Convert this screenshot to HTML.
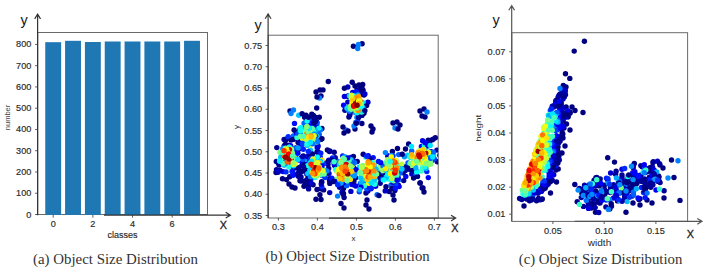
<!DOCTYPE html>
<html><head><meta charset="utf-8"><style>
html,body{margin:0;padding:0;background:#fff;width:706px;height:275px;overflow:hidden}
svg{display:block}
</style></head><body>
<svg width="706" height="275" viewBox="0 0 706 275">
<g font-family='"Liberation Sans", sans-serif' fill="#2a2a2a" stroke="#2a2a2a" stroke-width="0.15">
<rect x="37.70" y="32.50" width="169.80" height="182.00" fill="none" stroke="#6a6a6a" stroke-width="1"/>
<rect x="45.25" y="42.20" width="15.9" height="172.80" fill="#1f77b4" stroke="none"/>
<rect x="65.08" y="40.80" width="15.9" height="174.20" fill="#1f77b4" stroke="none"/>
<rect x="84.91" y="42.00" width="15.9" height="173.00" fill="#1f77b4" stroke="none"/>
<rect x="104.74" y="41.50" width="15.9" height="173.50" fill="#1f77b4" stroke="none"/>
<rect x="124.57" y="41.50" width="15.9" height="173.50" fill="#1f77b4" stroke="none"/>
<rect x="144.40" y="41.50" width="15.9" height="173.50" fill="#1f77b4" stroke="none"/>
<rect x="164.23" y="41.50" width="15.9" height="173.50" fill="#1f77b4" stroke="none"/>
<rect x="184.06" y="40.80" width="15.9" height="174.20" fill="#1f77b4" stroke="none"/>
<line x1="35.10" y1="214.50" x2="37.70" y2="214.50" stroke="#333" stroke-width="0.8"/>
<text x="31.40" y="217.50" text-anchor="end" font-size="8.4" textLength="5.09" lengthAdjust="spacingAndGlyphs">0</text>
<line x1="35.10" y1="193.24" x2="37.70" y2="193.24" stroke="#333" stroke-width="0.8"/>
<text x="31.40" y="196.24" text-anchor="end" font-size="8.4" textLength="15.26" lengthAdjust="spacingAndGlyphs">100</text>
<line x1="35.10" y1="171.98" x2="37.70" y2="171.98" stroke="#333" stroke-width="0.8"/>
<text x="31.40" y="174.98" text-anchor="end" font-size="8.4" textLength="15.26" lengthAdjust="spacingAndGlyphs">200</text>
<line x1="35.10" y1="150.72" x2="37.70" y2="150.72" stroke="#333" stroke-width="0.8"/>
<text x="31.40" y="153.72" text-anchor="end" font-size="8.4" textLength="15.26" lengthAdjust="spacingAndGlyphs">300</text>
<line x1="35.10" y1="129.46" x2="37.70" y2="129.46" stroke="#333" stroke-width="0.8"/>
<text x="31.40" y="132.46" text-anchor="end" font-size="8.4" textLength="15.26" lengthAdjust="spacingAndGlyphs">400</text>
<line x1="35.10" y1="108.20" x2="37.70" y2="108.20" stroke="#333" stroke-width="0.8"/>
<text x="31.40" y="111.20" text-anchor="end" font-size="8.4" textLength="15.26" lengthAdjust="spacingAndGlyphs">500</text>
<line x1="35.10" y1="86.94" x2="37.70" y2="86.94" stroke="#333" stroke-width="0.8"/>
<text x="31.40" y="89.94" text-anchor="end" font-size="8.4" textLength="15.26" lengthAdjust="spacingAndGlyphs">600</text>
<line x1="35.10" y1="65.68" x2="37.70" y2="65.68" stroke="#333" stroke-width="0.8"/>
<text x="31.40" y="68.68" text-anchor="end" font-size="8.4" textLength="15.26" lengthAdjust="spacingAndGlyphs">700</text>
<line x1="35.10" y1="44.42" x2="37.70" y2="44.42" stroke="#333" stroke-width="0.8"/>
<text x="31.40" y="47.42" text-anchor="end" font-size="8.4" textLength="15.26" lengthAdjust="spacingAndGlyphs">800</text>
<line x1="53.20" y1="215.00" x2="53.20" y2="217.60" stroke="#333" stroke-width="0.8"/>
<text x="53.20" y="226.80" text-anchor="middle" font-size="8.4" textLength="5.09" lengthAdjust="spacingAndGlyphs">0</text>
<line x1="92.86" y1="215.00" x2="92.86" y2="217.60" stroke="#333" stroke-width="0.8"/>
<text x="92.86" y="226.80" text-anchor="middle" font-size="8.4" textLength="5.09" lengthAdjust="spacingAndGlyphs">2</text>
<line x1="132.52" y1="215.00" x2="132.52" y2="217.60" stroke="#333" stroke-width="0.8"/>
<text x="132.52" y="226.80" text-anchor="middle" font-size="8.4" textLength="5.09" lengthAdjust="spacingAndGlyphs">4</text>
<line x1="172.18" y1="215.00" x2="172.18" y2="217.60" stroke="#333" stroke-width="0.8"/>
<text x="172.18" y="226.80" text-anchor="middle" font-size="8.4" textLength="5.09" lengthAdjust="spacingAndGlyphs">6</text>
<text x="122.5" y="238.2" text-anchor="middle" font-size="8.5" textLength="30" lengthAdjust="spacingAndGlyphs">classes</text>
<text transform="translate(9.6,117.5) rotate(-90)" text-anchor="middle" font-size="6.5" stroke="none" fill="#444" textLength="25.4" lengthAdjust="spacingAndGlyphs">number</text>
<path d="M37.60 215.20 L37.60 14.20 M34.70 18.90 L37.60 14.20 L40.50 18.90" fill="none" stroke="#333" stroke-width="1.2" stroke-linejoin="miter"/>
<path d="M104.00 215.20 L230.40 215.20 M225.70 212.30 L230.40 215.20 L225.70 218.10" fill="none" stroke="#333" stroke-width="1.2" stroke-linejoin="miter"/>
<text x="20.40" y="24.70" font-size="14.4" fill="#222" stroke="none">y</text>
<text x="219.80" y="229.00" font-size="10.8" fill="#222" stroke="#222" stroke-width="0.3">X</text>
<rect x="268.20" y="35.20" width="170.00" height="182.80" fill="none" stroke="#6a6a6a" stroke-width="1"/>
<line x1="265.60" y1="215.50" x2="268.20" y2="215.50" stroke="#333" stroke-width="0.8"/>
<text x="262.20" y="218.50" text-anchor="end" font-size="8.4" textLength="17.81" lengthAdjust="spacingAndGlyphs">0.35</text>
<line x1="265.60" y1="194.25" x2="268.20" y2="194.25" stroke="#333" stroke-width="0.8"/>
<text x="262.20" y="197.25" text-anchor="end" font-size="8.4" textLength="17.81" lengthAdjust="spacingAndGlyphs">0.40</text>
<line x1="265.60" y1="173.00" x2="268.20" y2="173.00" stroke="#333" stroke-width="0.8"/>
<text x="262.20" y="176.00" text-anchor="end" font-size="8.4" textLength="17.81" lengthAdjust="spacingAndGlyphs">0.45</text>
<line x1="265.60" y1="151.75" x2="268.20" y2="151.75" stroke="#333" stroke-width="0.8"/>
<text x="262.20" y="154.75" text-anchor="end" font-size="8.4" textLength="17.81" lengthAdjust="spacingAndGlyphs">0.50</text>
<line x1="265.60" y1="130.50" x2="268.20" y2="130.50" stroke="#333" stroke-width="0.8"/>
<text x="262.20" y="133.50" text-anchor="end" font-size="8.4" textLength="17.81" lengthAdjust="spacingAndGlyphs">0.55</text>
<line x1="265.60" y1="109.25" x2="268.20" y2="109.25" stroke="#333" stroke-width="0.8"/>
<text x="262.20" y="112.25" text-anchor="end" font-size="8.4" textLength="17.81" lengthAdjust="spacingAndGlyphs">0.60</text>
<line x1="265.60" y1="88.00" x2="268.20" y2="88.00" stroke="#333" stroke-width="0.8"/>
<text x="262.20" y="91.00" text-anchor="end" font-size="8.4" textLength="17.81" lengthAdjust="spacingAndGlyphs">0.65</text>
<line x1="265.60" y1="66.75" x2="268.20" y2="66.75" stroke="#333" stroke-width="0.8"/>
<text x="262.20" y="69.75" text-anchor="end" font-size="8.4" textLength="17.81" lengthAdjust="spacingAndGlyphs">0.70</text>
<line x1="265.60" y1="45.50" x2="268.20" y2="45.50" stroke="#333" stroke-width="0.8"/>
<text x="262.20" y="48.50" text-anchor="end" font-size="8.4" textLength="17.81" lengthAdjust="spacingAndGlyphs">0.75</text>
<line x1="278.40" y1="218.00" x2="278.40" y2="220.60" stroke="#333" stroke-width="0.8"/>
<text x="278.40" y="230.30" text-anchor="middle" font-size="8.4" textLength="12.72" lengthAdjust="spacingAndGlyphs">0.3</text>
<line x1="317.40" y1="218.00" x2="317.40" y2="220.60" stroke="#333" stroke-width="0.8"/>
<text x="317.40" y="230.30" text-anchor="middle" font-size="8.4" textLength="12.72" lengthAdjust="spacingAndGlyphs">0.4</text>
<line x1="356.40" y1="218.00" x2="356.40" y2="220.60" stroke="#333" stroke-width="0.8"/>
<text x="356.40" y="230.30" text-anchor="middle" font-size="8.4" textLength="12.72" lengthAdjust="spacingAndGlyphs">0.5</text>
<line x1="395.40" y1="218.00" x2="395.40" y2="220.60" stroke="#333" stroke-width="0.8"/>
<text x="395.40" y="230.30" text-anchor="middle" font-size="8.4" textLength="12.72" lengthAdjust="spacingAndGlyphs">0.6</text>
<line x1="434.40" y1="218.00" x2="434.40" y2="220.60" stroke="#333" stroke-width="0.8"/>
<text x="434.40" y="230.30" text-anchor="middle" font-size="8.4" textLength="12.72" lengthAdjust="spacingAndGlyphs">0.7</text>
<text x="353.5" y="241" text-anchor="middle" font-size="8" stroke="none">x</text>
<text transform="translate(238.7,127) rotate(-90)" text-anchor="middle" font-size="8" stroke="none">y</text>
<rect x="511.80" y="32.70" width="175.80" height="188.70" fill="none" stroke="#6a6a6a" stroke-width="1"/>
<line x1="509.20" y1="214.20" x2="511.80" y2="214.20" stroke="#333" stroke-width="0.8"/>
<text x="505.40" y="217.20" text-anchor="end" font-size="8.4" textLength="17.81" lengthAdjust="spacingAndGlyphs">0.01</text>
<line x1="509.20" y1="187.13" x2="511.80" y2="187.13" stroke="#333" stroke-width="0.8"/>
<text x="505.40" y="190.13" text-anchor="end" font-size="8.4" textLength="17.81" lengthAdjust="spacingAndGlyphs">0.02</text>
<line x1="509.20" y1="160.06" x2="511.80" y2="160.06" stroke="#333" stroke-width="0.8"/>
<text x="505.40" y="163.06" text-anchor="end" font-size="8.4" textLength="17.81" lengthAdjust="spacingAndGlyphs">0.03</text>
<line x1="509.20" y1="132.99" x2="511.80" y2="132.99" stroke="#333" stroke-width="0.8"/>
<text x="505.40" y="135.99" text-anchor="end" font-size="8.4" textLength="17.81" lengthAdjust="spacingAndGlyphs">0.04</text>
<line x1="509.20" y1="105.92" x2="511.80" y2="105.92" stroke="#333" stroke-width="0.8"/>
<text x="505.40" y="108.92" text-anchor="end" font-size="8.4" textLength="17.81" lengthAdjust="spacingAndGlyphs">0.05</text>
<line x1="509.20" y1="78.85" x2="511.80" y2="78.85" stroke="#333" stroke-width="0.8"/>
<text x="505.40" y="81.85" text-anchor="end" font-size="8.4" textLength="17.81" lengthAdjust="spacingAndGlyphs">0.06</text>
<line x1="509.20" y1="51.78" x2="511.80" y2="51.78" stroke="#333" stroke-width="0.8"/>
<text x="505.40" y="54.78" text-anchor="end" font-size="8.4" textLength="17.81" lengthAdjust="spacingAndGlyphs">0.07</text>
<line x1="552.90" y1="221.40" x2="552.90" y2="224.00" stroke="#333" stroke-width="0.8"/>
<text x="552.90" y="234.10" text-anchor="middle" font-size="8.4" textLength="17.81" lengthAdjust="spacingAndGlyphs">0.05</text>
<line x1="604.20" y1="221.40" x2="604.20" y2="224.00" stroke="#333" stroke-width="0.8"/>
<text x="604.20" y="234.10" text-anchor="middle" font-size="8.4" textLength="17.81" lengthAdjust="spacingAndGlyphs">0.10</text>
<line x1="655.90" y1="221.40" x2="655.90" y2="224.00" stroke="#333" stroke-width="0.8"/>
<text x="655.90" y="234.10" text-anchor="middle" font-size="8.4" textLength="17.81" lengthAdjust="spacingAndGlyphs">0.15</text>
<text x="599.5" y="245.9" text-anchor="middle" font-size="8.6" stroke="none" textLength="23.5" lengthAdjust="spacingAndGlyphs">width</text>
<text transform="translate(481.4,128.3) rotate(-90)" text-anchor="middle" font-size="8" stroke="none" textLength="27" lengthAdjust="spacingAndGlyphs">height</text>
</g>
<defs><clipPath id="cb"><rect x="268.2" y="35.2" width="170" height="182.8"/></clipPath><clipPath id="cc"><rect x="511.8" y="32.7" width="175.8" height="188.7"/></clipPath></defs>
<g clip-path="url(#cb)">
<circle cx="349.9" cy="113.4" r="2.7" fill="#000080"/>
<circle cx="317.8" cy="136.6" r="2.7" fill="#0000f1"/>
<circle cx="309.7" cy="167.2" r="2.7" fill="#0030ff"/>
<circle cx="344.0" cy="208.0" r="2.7" fill="#000080"/>
<circle cx="292.0" cy="187.0" r="2.7" fill="#000080"/>
<circle cx="343.8" cy="164.4" r="2.7" fill="#ceff31"/>
<circle cx="439.9" cy="155.3" r="2.7" fill="#0000ac"/>
<circle cx="282.5" cy="178.8" r="2.7" fill="#000080"/>
<circle cx="360.6" cy="113.7" r="2.7" fill="#0000dd"/>
<circle cx="351.6" cy="171.0" r="2.7" fill="#00a3ff"/>
<circle cx="337.6" cy="161.2" r="2.7" fill="#008aff"/>
<circle cx="355.0" cy="129.0" r="2.7" fill="#000080"/>
<circle cx="318.6" cy="155.8" r="2.7" fill="#0086ff"/>
<circle cx="318.5" cy="160.6" r="2.7" fill="#00f6ff"/>
<circle cx="393.4" cy="184.0" r="2.7" fill="#0000f8"/>
<circle cx="362.0" cy="115.4" r="2.7" fill="#000080"/>
<circle cx="366.4" cy="184.7" r="2.7" fill="#0022ff"/>
<circle cx="305.4" cy="127.3" r="2.7" fill="#0046ff"/>
<circle cx="311.8" cy="114.1" r="2.7" fill="#000080"/>
<circle cx="423.6" cy="163.0" r="2.7" fill="#2cffd3"/>
<circle cx="393.8" cy="182.9" r="2.7" fill="#009fff"/>
<circle cx="411.8" cy="173.9" r="2.7" fill="#0000c2"/>
<circle cx="349.5" cy="111.8" r="2.7" fill="#0017ff"/>
<circle cx="310.4" cy="150.3" r="2.7" fill="#00c7ff"/>
<circle cx="316.9" cy="122.2" r="2.7" fill="#0000a1"/>
<circle cx="276.3" cy="161.4" r="2.7" fill="#000094"/>
<circle cx="397.1" cy="177.4" r="2.7" fill="#0096ff"/>
<circle cx="344.9" cy="110.2" r="2.7" fill="#00009e"/>
<circle cx="364.0" cy="113.2" r="2.7" fill="#000080"/>
<circle cx="431.1" cy="151.7" r="2.7" fill="#0000ac"/>
<circle cx="381.1" cy="172.0" r="2.7" fill="#000094"/>
<circle cx="348.9" cy="117.0" r="2.7" fill="#000080"/>
<circle cx="353.4" cy="46.3" r="2.7" fill="#000080"/>
<circle cx="347.8" cy="87.0" r="2.7" fill="#0000cb"/>
<circle cx="285.8" cy="145.4" r="2.7" fill="#006eff"/>
<circle cx="388.3" cy="178.2" r="2.7" fill="#005aff"/>
<circle cx="344.8" cy="185.8" r="2.7" fill="#007bff"/>
<circle cx="357.0" cy="90.0" r="2.7" fill="#000080"/>
<circle cx="277.6" cy="161.7" r="2.7" fill="#000080"/>
<circle cx="346.0" cy="130.0" r="2.7" fill="#0080ff"/>
<circle cx="306.2" cy="121.5" r="2.7" fill="#000097"/>
<circle cx="357.2" cy="93.3" r="2.7" fill="#000aff"/>
<circle cx="349.6" cy="176.9" r="2.7" fill="#0000dc"/>
<circle cx="418.8" cy="158.4" r="2.7" fill="#abff54"/>
<circle cx="405.8" cy="176.4" r="2.7" fill="#0002ff"/>
<circle cx="307.6" cy="166.1" r="2.7" fill="#000080"/>
<circle cx="299.1" cy="130.6" r="2.7" fill="#000aff"/>
<circle cx="366.0" cy="193.0" r="2.7" fill="#000080"/>
<circle cx="318.1" cy="164.4" r="2.7" fill="#fff200"/>
<circle cx="322.3" cy="175.5" r="2.7" fill="#0000db"/>
<circle cx="284.1" cy="139.4" r="2.7" fill="#0000aa"/>
<circle cx="308.4" cy="186.3" r="2.7" fill="#000080"/>
<circle cx="297.7" cy="168.3" r="2.7" fill="#000094"/>
<circle cx="352.2" cy="82.3" r="2.7" fill="#000080"/>
<circle cx="370.6" cy="170.5" r="2.7" fill="#ffce00"/>
<circle cx="283.0" cy="171.6" r="2.7" fill="#0000f2"/>
<circle cx="408.7" cy="164.5" r="2.7" fill="#000bff"/>
<circle cx="398.7" cy="179.8" r="2.7" fill="#0078ff"/>
<circle cx="317.4" cy="128.4" r="2.7" fill="#000093"/>
<circle cx="362.1" cy="167.7" r="2.7" fill="#003aff"/>
<circle cx="353.1" cy="174.1" r="2.7" fill="#000094"/>
<circle cx="306.8" cy="180.4" r="2.7" fill="#000080"/>
<circle cx="289.7" cy="176.8" r="2.7" fill="#000080"/>
<circle cx="424.0" cy="109.0" r="2.7" fill="#000080"/>
<circle cx="311.4" cy="178.4" r="2.7" fill="#0021ff"/>
<circle cx="341.4" cy="186.2" r="2.7" fill="#0096ff"/>
<circle cx="318.0" cy="161.0" r="2.7" fill="#00b6ff"/>
<circle cx="317.3" cy="148.6" r="2.7" fill="#0084ff"/>
<circle cx="311.4" cy="134.9" r="2.7" fill="#91ff6e"/>
<circle cx="300.0" cy="180.7" r="2.7" fill="#000094"/>
<circle cx="347.6" cy="107.5" r="2.7" fill="#00dbff"/>
<circle cx="316.0" cy="117.5" r="2.7" fill="#000080"/>
<circle cx="389.2" cy="191.5" r="2.7" fill="#000080"/>
<circle cx="356.9" cy="117.5" r="2.7" fill="#0088ff"/>
<circle cx="367.8" cy="191.1" r="2.7" fill="#0000bb"/>
<circle cx="422.6" cy="140.8" r="2.7" fill="#0000dd"/>
<circle cx="286.0" cy="171.9" r="2.7" fill="#002dff"/>
<circle cx="289.0" cy="147.8" r="2.7" fill="#70ff8f"/>
<circle cx="317.8" cy="145.4" r="2.7" fill="#001cff"/>
<circle cx="291.0" cy="166.9" r="2.7" fill="#000082"/>
<circle cx="304.5" cy="166.9" r="2.7" fill="#0000a0"/>
<circle cx="305.7" cy="123.4" r="2.7" fill="#006bff"/>
<circle cx="313.5" cy="141.2" r="2.7" fill="#006eff"/>
<circle cx="345.8" cy="158.8" r="2.7" fill="#000080"/>
<circle cx="369.0" cy="209.0" r="2.7" fill="#000080"/>
<circle cx="301.8" cy="165.8" r="2.7" fill="#000094"/>
<circle cx="397.0" cy="122.0" r="2.7" fill="#000080"/>
<circle cx="342.7" cy="155.9" r="2.7" fill="#0015ff"/>
<circle cx="316.7" cy="108.0" r="2.7" fill="#000080"/>
<circle cx="367.0" cy="200.0" r="2.7" fill="#000080"/>
<circle cx="361.9" cy="123.5" r="2.7" fill="#000085"/>
<circle cx="296.1" cy="132.8" r="2.7" fill="#000080"/>
<circle cx="366.0" cy="205.0" r="2.7" fill="#000080"/>
<circle cx="320.7" cy="188.7" r="2.7" fill="#000080"/>
<circle cx="286.3" cy="150.8" r="2.7" fill="#05fffa"/>
<circle cx="317.7" cy="147.0" r="2.7" fill="#000080"/>
<circle cx="367.9" cy="102.3" r="2.7" fill="#0000d4"/>
<circle cx="393.0" cy="195.0" r="2.7" fill="#000080"/>
<circle cx="344.2" cy="184.6" r="2.7" fill="#000086"/>
<circle cx="302.4" cy="162.5" r="2.7" fill="#0000f9"/>
<circle cx="284.1" cy="146.3" r="2.7" fill="#0000c4"/>
<circle cx="387.7" cy="155.8" r="2.7" fill="#0000e1"/>
<circle cx="293.0" cy="175.2" r="2.7" fill="#000aff"/>
<circle cx="307.5" cy="159.8" r="2.7" fill="#00aeff"/>
<circle cx="390.5" cy="177.0" r="2.7" fill="#70ff8f"/>
<circle cx="388.8" cy="162.4" r="2.7" fill="#8bff74"/>
<circle cx="319.6" cy="157.1" r="2.7" fill="#0010ff"/>
<circle cx="437.3" cy="161.8" r="2.7" fill="#000080"/>
<circle cx="284.1" cy="165.0" r="2.7" fill="#0067ff"/>
<circle cx="313.1" cy="184.7" r="2.7" fill="#000080"/>
<circle cx="361.0" cy="173.7" r="2.7" fill="#00bcff"/>
<circle cx="313.9" cy="130.1" r="2.7" fill="#5effa1"/>
<circle cx="329.0" cy="173.5" r="2.7" fill="#0000d7"/>
<circle cx="375.6" cy="186.3" r="2.7" fill="#0000f7"/>
<circle cx="281.0" cy="152.1" r="2.7" fill="#000094"/>
<circle cx="362.1" cy="43.7" r="2.7" fill="#000080"/>
<circle cx="323.6" cy="189.9" r="2.7" fill="#00008c"/>
<circle cx="343.6" cy="105.2" r="2.7" fill="#0001ff"/>
<circle cx="396.0" cy="163.9" r="2.7" fill="#001aff"/>
<circle cx="353.4" cy="167.4" r="2.7" fill="#0000a1"/>
<circle cx="367.0" cy="188.1" r="2.7" fill="#0000e4"/>
<circle cx="320.2" cy="157.0" r="2.7" fill="#0059ff"/>
<circle cx="354.0" cy="126.0" r="2.7" fill="#0080ff"/>
<circle cx="293.3" cy="136.0" r="2.7" fill="#0067ff"/>
<circle cx="321.9" cy="128.4" r="2.7" fill="#000080"/>
<circle cx="363.4" cy="180.9" r="2.7" fill="#003aff"/>
<circle cx="283.4" cy="149.6" r="2.7" fill="#000080"/>
<circle cx="342.0" cy="192.2" r="2.7" fill="#0000cf"/>
<circle cx="391.0" cy="185.3" r="2.7" fill="#005dff"/>
<circle cx="347.4" cy="181.7" r="2.7" fill="#0000df"/>
<circle cx="393.8" cy="174.3" r="2.7" fill="#44ffbb"/>
<circle cx="362.8" cy="170.5" r="2.7" fill="#7bff84"/>
<circle cx="379.3" cy="173.3" r="2.7" fill="#0080ff"/>
<circle cx="344.0" cy="180.2" r="2.7" fill="#0091ff"/>
<circle cx="317.0" cy="152.0" r="2.7" fill="#000080"/>
<circle cx="295.0" cy="188.0" r="2.7" fill="#000080"/>
<circle cx="341.8" cy="164.9" r="2.7" fill="#b0ff4f"/>
<circle cx="368.7" cy="173.9" r="2.7" fill="#fffa00"/>
<circle cx="318.1" cy="151.9" r="2.7" fill="#0000a0"/>
<circle cx="328.7" cy="168.4" r="2.7" fill="#000094"/>
<circle cx="328.0" cy="164.4" r="2.7" fill="#000094"/>
<circle cx="364.0" cy="95.0" r="2.7" fill="#000080"/>
<circle cx="371.0" cy="188.8" r="2.7" fill="#0000bd"/>
<circle cx="312.0" cy="117.0" r="2.7" fill="#000080"/>
<circle cx="396.5" cy="166.2" r="2.7" fill="#63ff9c"/>
<circle cx="371.0" cy="126.0" r="2.7" fill="#000080"/>
<circle cx="391.0" cy="166.5" r="2.7" fill="#2fffd0"/>
<circle cx="320.0" cy="90.0" r="2.7" fill="#000080"/>
<circle cx="326.5" cy="173.0" r="2.7" fill="#000080"/>
<circle cx="382.3" cy="179.1" r="2.7" fill="#00adff"/>
<circle cx="354.3" cy="176.5" r="2.7" fill="#0036ff"/>
<circle cx="334.6" cy="165.5" r="2.7" fill="#000094"/>
<circle cx="356.4" cy="172.0" r="2.7" fill="#00a1ff"/>
<circle cx="409.2" cy="169.2" r="2.7" fill="#000094"/>
<circle cx="294.4" cy="168.1" r="2.7" fill="#000094"/>
<circle cx="411.0" cy="154.6" r="2.7" fill="#0091ff"/>
<circle cx="283.5" cy="164.4" r="2.7" fill="#00e5ff"/>
<circle cx="290.6" cy="145.8" r="2.7" fill="#000bff"/>
<circle cx="292.2" cy="167.5" r="2.7" fill="#000080"/>
<circle cx="350.2" cy="98.0" r="2.7" fill="#0055ff"/>
<circle cx="319.3" cy="134.7" r="2.7" fill="#005dff"/>
<circle cx="307.8" cy="178.1" r="2.7" fill="#000080"/>
<circle cx="352.0" cy="172.8" r="2.7" fill="#ffa000"/>
<circle cx="324.9" cy="171.6" r="2.7" fill="#004aff"/>
<circle cx="390.5" cy="171.7" r="2.7" fill="#6cff93"/>
<circle cx="343.5" cy="193.5" r="2.7" fill="#000080"/>
<circle cx="296.3" cy="149.5" r="2.7" fill="#000080"/>
<circle cx="311.9" cy="121.9" r="2.7" fill="#0067ff"/>
<circle cx="298.6" cy="134.8" r="2.7" fill="#00a8ff"/>
<circle cx="353.2" cy="184.7" r="2.7" fill="#000080"/>
<circle cx="310.1" cy="120.1" r="2.7" fill="#000080"/>
<circle cx="360.8" cy="87.1" r="2.7" fill="#000080"/>
<circle cx="361.0" cy="92.0" r="2.7" fill="#000080"/>
<circle cx="304.1" cy="123.2" r="2.7" fill="#0063ff"/>
<circle cx="298.7" cy="115.3" r="2.7" fill="#00caff"/>
<circle cx="359.3" cy="191.8" r="2.7" fill="#0041ff"/>
<circle cx="357.8" cy="121.6" r="2.7" fill="#0038ff"/>
<circle cx="353.5" cy="161.1" r="2.7" fill="#0005ff"/>
<circle cx="293.4" cy="166.0" r="2.7" fill="#000092"/>
<circle cx="290.4" cy="153.4" r="2.7" fill="#00aeff"/>
<circle cx="300.4" cy="143.6" r="2.7" fill="#00e2ff"/>
<circle cx="313.4" cy="115.5" r="2.7" fill="#000080"/>
<circle cx="429.5" cy="143.2" r="2.7" fill="#0009ff"/>
<circle cx="307.9" cy="117.6" r="2.7" fill="#00009f"/>
<circle cx="422.1" cy="188.0" r="2.7" fill="#000092"/>
<circle cx="405.5" cy="149.0" r="2.7" fill="#000080"/>
<circle cx="400.0" cy="125.0" r="2.7" fill="#000080"/>
<circle cx="300.8" cy="177.9" r="2.7" fill="#000094"/>
<circle cx="334.1" cy="163.7" r="2.7" fill="#0000ef"/>
<circle cx="362.7" cy="84.5" r="2.7" fill="#000080"/>
<circle cx="403.1" cy="170.3" r="2.7" fill="#0000a7"/>
<circle cx="387.2" cy="178.8" r="2.7" fill="#00fcff"/>
<circle cx="393.0" cy="123.0" r="2.7" fill="#000080"/>
<circle cx="392.0" cy="188.4" r="2.7" fill="#000080"/>
<circle cx="304.0" cy="186.3" r="2.7" fill="#000080"/>
<circle cx="380.2" cy="183.2" r="2.7" fill="#000094"/>
<circle cx="415.3" cy="176.5" r="2.7" fill="#0072ff"/>
<circle cx="277.9" cy="162.6" r="2.7" fill="#000094"/>
<circle cx="307.0" cy="134.8" r="2.7" fill="#ffe500"/>
<circle cx="322.0" cy="138.8" r="2.7" fill="#000080"/>
<circle cx="301.1" cy="158.3" r="2.7" fill="#0000c5"/>
<circle cx="359.9" cy="89.8" r="2.7" fill="#00009c"/>
<circle cx="309.8" cy="160.5" r="2.7" fill="#0000d7"/>
<circle cx="392.4" cy="164.3" r="2.7" fill="#00bdff"/>
<circle cx="374.0" cy="180.9" r="2.7" fill="#000080"/>
<circle cx="416.6" cy="171.4" r="2.7" fill="#0047ff"/>
<circle cx="388.3" cy="168.2" r="2.7" fill="#00e3ff"/>
<circle cx="313.5" cy="134.8" r="2.7" fill="#00c9ff"/>
<circle cx="413.6" cy="178.0" r="2.7" fill="#000080"/>
<circle cx="311.9" cy="126.2" r="2.7" fill="#00afff"/>
<circle cx="371.2" cy="174.6" r="2.7" fill="#ff8200"/>
<circle cx="306.8" cy="156.6" r="2.7" fill="#0000d1"/>
<circle cx="306.2" cy="139.5" r="2.7" fill="#00a0ff"/>
<circle cx="328.3" cy="81.5" r="2.7" fill="#000080"/>
<circle cx="391.8" cy="159.0" r="2.7" fill="#00f1ff"/>
<circle cx="386.7" cy="161.7" r="2.7" fill="#58ffa7"/>
<circle cx="319.3" cy="117.2" r="2.7" fill="#000080"/>
<circle cx="311.5" cy="156.2" r="2.7" fill="#0000bb"/>
<circle cx="303.3" cy="163.4" r="2.7" fill="#0000ca"/>
<circle cx="395.0" cy="128.0" r="2.7" fill="#0080ff"/>
<circle cx="299.1" cy="136.1" r="2.7" fill="#00c7ff"/>
<circle cx="425.0" cy="117.0" r="2.7" fill="#000080"/>
<circle cx="321.7" cy="182.2" r="2.7" fill="#0000ea"/>
<circle cx="373.2" cy="157.6" r="2.7" fill="#000bff"/>
<circle cx="289.2" cy="148.7" r="2.7" fill="#70ff8f"/>
<circle cx="289.1" cy="145.3" r="2.7" fill="#0000e5"/>
<circle cx="366.6" cy="182.6" r="2.7" fill="#0081ff"/>
<circle cx="286.2" cy="139.4" r="2.7" fill="#000080"/>
<circle cx="317.2" cy="146.7" r="2.7" fill="#0000e5"/>
<circle cx="342.8" cy="162.7" r="2.7" fill="#abff54"/>
<circle cx="302.1" cy="113.8" r="2.7" fill="#000080"/>
<circle cx="369.1" cy="172.4" r="2.7" fill="#ffd600"/>
<circle cx="380.8" cy="176.3" r="2.7" fill="#000094"/>
<circle cx="286.8" cy="146.1" r="2.7" fill="#0021ff"/>
<circle cx="316.8" cy="131.1" r="2.7" fill="#0074ff"/>
<circle cx="316.5" cy="125.8" r="2.7" fill="#0000fc"/>
<circle cx="280.8" cy="161.5" r="2.7" fill="#000094"/>
<circle cx="336.2" cy="179.1" r="2.7" fill="#80ff7f"/>
<circle cx="295.4" cy="149.0" r="2.7" fill="#00f1ff"/>
<circle cx="292.5" cy="154.1" r="2.7" fill="#2effd1"/>
<circle cx="347.7" cy="166.1" r="2.7" fill="#ffd200"/>
<circle cx="306.3" cy="164.5" r="2.7" fill="#0004ff"/>
<circle cx="315.2" cy="177.5" r="2.7" fill="#10ffef"/>
<circle cx="335.2" cy="157.7" r="2.7" fill="#000094"/>
<circle cx="385.2" cy="168.6" r="2.7" fill="#0088ff"/>
<circle cx="394.0" cy="200.0" r="2.7" fill="#000080"/>
<circle cx="423.0" cy="159.3" r="2.7" fill="#fbff04"/>
<circle cx="295.7" cy="155.6" r="2.7" fill="#0073ff"/>
<circle cx="411.0" cy="157.4" r="2.7" fill="#00bcff"/>
<circle cx="352.7" cy="92.4" r="2.7" fill="#0000e1"/>
<circle cx="408.6" cy="144.0" r="2.7" fill="#000080"/>
<circle cx="317.7" cy="164.2" r="2.7" fill="#b4ff4b"/>
<circle cx="289.0" cy="184.0" r="2.7" fill="#000080"/>
<circle cx="306.8" cy="174.1" r="2.7" fill="#00009e"/>
<circle cx="396.5" cy="174.1" r="2.7" fill="#13ffec"/>
<circle cx="279.9" cy="159.9" r="2.7" fill="#8cff73"/>
<circle cx="358.9" cy="96.9" r="2.7" fill="#00eeff"/>
<circle cx="392.9" cy="175.7" r="2.7" fill="#000080"/>
<circle cx="402.0" cy="165.3" r="2.7" fill="#007cff"/>
<circle cx="342.6" cy="167.9" r="2.7" fill="#ff4f00"/>
<circle cx="355.2" cy="112.5" r="2.7" fill="#008dff"/>
<circle cx="319.7" cy="156.7" r="2.7" fill="#008eff"/>
<circle cx="396.5" cy="165.7" r="2.7" fill="#27ffd8"/>
<circle cx="393.0" cy="155.7" r="2.7" fill="#003aff"/>
<circle cx="279.9" cy="170.1" r="2.7" fill="#000094"/>
<circle cx="436.9" cy="150.1" r="2.7" fill="#0000a0"/>
<circle cx="373.3" cy="173.7" r="2.7" fill="#48ffb7"/>
<circle cx="348.4" cy="182.6" r="2.7" fill="#007bff"/>
<circle cx="402.8" cy="168.4" r="2.7" fill="#000094"/>
<circle cx="312.1" cy="143.5" r="2.7" fill="#0dfff2"/>
<circle cx="284.9" cy="162.7" r="2.7" fill="#42ffbd"/>
<circle cx="295.6" cy="147.9" r="2.7" fill="#000080"/>
<circle cx="398.7" cy="154.6" r="2.7" fill="#005dff"/>
<circle cx="348.5" cy="168.6" r="2.7" fill="#fff600"/>
<circle cx="423.0" cy="188.0" r="2.7" fill="#000080"/>
<circle cx="366.8" cy="188.8" r="2.7" fill="#0043ff"/>
<circle cx="394.1" cy="179.6" r="2.7" fill="#c5ff3a"/>
<circle cx="304.1" cy="164.5" r="2.7" fill="#00008f"/>
<circle cx="286.2" cy="139.1" r="2.7" fill="#000080"/>
<circle cx="359.0" cy="115.6" r="2.7" fill="#0000a4"/>
<circle cx="369.4" cy="187.1" r="2.7" fill="#0007ff"/>
<circle cx="398.4" cy="185.2" r="2.7" fill="#000080"/>
<circle cx="363.1" cy="90.2" r="2.7" fill="#000080"/>
<circle cx="371.2" cy="187.9" r="2.7" fill="#0024ff"/>
<circle cx="307.8" cy="165.5" r="2.7" fill="#10ffef"/>
<circle cx="286.3" cy="145.0" r="2.7" fill="#000080"/>
<circle cx="376.9" cy="173.1" r="2.7" fill="#ffe300"/>
<circle cx="315.1" cy="137.6" r="2.7" fill="#00ecff"/>
<circle cx="318.0" cy="173.8" r="2.7" fill="#f0ff0f"/>
<circle cx="328.7" cy="160.3" r="2.7" fill="#0000f6"/>
<circle cx="338.4" cy="181.0" r="2.7" fill="#73ff8c"/>
<circle cx="313.4" cy="127.8" r="2.7" fill="#0000f8"/>
<circle cx="367.9" cy="179.3" r="2.7" fill="#0bfff4"/>
<circle cx="285.7" cy="161.1" r="2.7" fill="#0080ff"/>
<circle cx="281.7" cy="163.6" r="2.7" fill="#11ffee"/>
<circle cx="406.4" cy="166.5" r="2.7" fill="#000094"/>
<circle cx="381.9" cy="168.7" r="2.7" fill="#000080"/>
<circle cx="325.1" cy="170.6" r="2.7" fill="#00c2ff"/>
<circle cx="343.5" cy="188.4" r="2.7" fill="#000080"/>
<circle cx="313.5" cy="169.3" r="2.7" fill="#ffdc00"/>
<circle cx="282.5" cy="155.3" r="2.7" fill="#a6ff59"/>
<circle cx="321.0" cy="96.0" r="2.7" fill="#000080"/>
<circle cx="424.0" cy="192.0" r="2.7" fill="#000080"/>
<circle cx="360.4" cy="183.5" r="2.7" fill="#0039ff"/>
<circle cx="378.2" cy="169.1" r="2.7" fill="#00cfff"/>
<circle cx="283.1" cy="150.1" r="2.7" fill="#08fff7"/>
<circle cx="285.1" cy="153.9" r="2.7" fill="#ff7a00"/>
<circle cx="316.0" cy="199.3" r="2.7" fill="#000080"/>
<circle cx="298.1" cy="142.5" r="2.7" fill="#000080"/>
<circle cx="421.4" cy="146.4" r="2.7" fill="#0000ff"/>
<circle cx="369.8" cy="158.8" r="2.7" fill="#000080"/>
<circle cx="355.0" cy="86.0" r="2.7" fill="#000080"/>
<circle cx="428.3" cy="177.6" r="2.7" fill="#0000fc"/>
<circle cx="312.7" cy="120.1" r="2.7" fill="#0000c4"/>
<circle cx="357.2" cy="161.5" r="2.7" fill="#000080"/>
<circle cx="350.0" cy="112.0" r="2.7" fill="#000081"/>
<circle cx="343.2" cy="194.3" r="2.7" fill="#000080"/>
<circle cx="354.5" cy="102.8" r="2.7" fill="#a0ff5f"/>
<circle cx="290.6" cy="152.5" r="2.7" fill="#7bff84"/>
<circle cx="279.0" cy="165.0" r="2.7" fill="#000094"/>
<circle cx="319.3" cy="167.7" r="2.7" fill="#d0ff2f"/>
<circle cx="306.6" cy="185.3" r="2.7" fill="#000080"/>
<circle cx="290.0" cy="111.0" r="2.7" fill="#000080"/>
<circle cx="397.6" cy="174.3" r="2.7" fill="#81ff7e"/>
<circle cx="324.2" cy="163.3" r="2.7" fill="#0034ff"/>
<circle cx="317.0" cy="123.7" r="2.7" fill="#004dff"/>
<circle cx="362.3" cy="94.1" r="2.7" fill="#000080"/>
<circle cx="276.8" cy="147.6" r="2.7" fill="#000094"/>
<circle cx="283.3" cy="152.1" r="2.7" fill="#ecff13"/>
<circle cx="412.1" cy="170.1" r="2.7" fill="#000080"/>
<circle cx="363.0" cy="102.6" r="2.7" fill="#00e5ff"/>
<circle cx="364.0" cy="174.3" r="2.7" fill="#8cff73"/>
<circle cx="329.4" cy="178.8" r="2.7" fill="#000080"/>
<circle cx="328.1" cy="161.5" r="2.7" fill="#000096"/>
<circle cx="379.9" cy="178.2" r="2.7" fill="#000094"/>
<circle cx="285.2" cy="149.5" r="2.7" fill="#fff000"/>
<circle cx="298.0" cy="135.9" r="2.7" fill="#004eff"/>
<circle cx="352.8" cy="181.2" r="2.7" fill="#000094"/>
<circle cx="329.5" cy="180.5" r="2.7" fill="#0000b8"/>
<circle cx="389.8" cy="171.7" r="2.7" fill="#caff35"/>
<circle cx="395.7" cy="168.0" r="2.7" fill="#bfff40"/>
<circle cx="318.3" cy="159.8" r="2.7" fill="#00c5ff"/>
<circle cx="428.2" cy="140.1" r="2.7" fill="#000080"/>
<circle cx="286.7" cy="156.2" r="2.7" fill="#ff8f00"/>
<circle cx="303.3" cy="155.9" r="2.7" fill="#000080"/>
<circle cx="288.2" cy="136.7" r="2.7" fill="#002aff"/>
<circle cx="315.9" cy="165.5" r="2.7" fill="#ff9700"/>
<circle cx="371.7" cy="174.6" r="2.7" fill="#93ff6c"/>
<circle cx="298.9" cy="160.0" r="2.7" fill="#0000f3"/>
<circle cx="391.9" cy="172.1" r="2.7" fill="#ff9300"/>
<circle cx="433.7" cy="155.0" r="2.7" fill="#00cfff"/>
<circle cx="357.3" cy="92.1" r="2.7" fill="#000080"/>
<circle cx="352.2" cy="166.9" r="2.7" fill="#b9ff46"/>
<circle cx="304.6" cy="117.2" r="2.7" fill="#000080"/>
<circle cx="357.7" cy="97.8" r="2.7" fill="#7dff82"/>
<circle cx="331.8" cy="178.1" r="2.7" fill="#0012ff"/>
<circle cx="297.6" cy="153.3" r="2.7" fill="#0082ff"/>
<circle cx="317.0" cy="189.5" r="2.7" fill="#000080"/>
<circle cx="310.9" cy="167.2" r="2.7" fill="#27ffd8"/>
<circle cx="373.0" cy="129.0" r="2.7" fill="#000080"/>
<circle cx="282.1" cy="159.1" r="2.7" fill="#2affd5"/>
<circle cx="301.8" cy="129.4" r="2.7" fill="#00b1ff"/>
<circle cx="312.4" cy="154.0" r="2.7" fill="#000080"/>
<circle cx="351.0" cy="174.2" r="2.7" fill="#ffec00"/>
<circle cx="424.9" cy="148.9" r="2.7" fill="#0066ff"/>
<circle cx="293.9" cy="165.7" r="2.7" fill="#00e2ff"/>
<circle cx="420.1" cy="150.4" r="2.7" fill="#31ffce"/>
<circle cx="306.3" cy="170.5" r="2.7" fill="#000080"/>
<circle cx="311.2" cy="121.1" r="2.7" fill="#00e9ff"/>
<circle cx="376.6" cy="172.0" r="2.7" fill="#bfff40"/>
<circle cx="292.5" cy="164.4" r="2.7" fill="#dcff23"/>
<circle cx="396.0" cy="174.1" r="2.7" fill="#007eff"/>
<circle cx="301.8" cy="138.4" r="2.7" fill="#009fff"/>
<circle cx="408.0" cy="162.9" r="2.7" fill="#004dff"/>
<circle cx="368.2" cy="182.4" r="2.7" fill="#0094ff"/>
<circle cx="348.0" cy="131.0" r="2.7" fill="#000080"/>
<circle cx="353.2" cy="108.6" r="2.7" fill="#00e5ff"/>
<circle cx="329.7" cy="192.6" r="2.7" fill="#0000bf"/>
<circle cx="321.8" cy="186.8" r="2.7" fill="#0025ff"/>
<circle cx="324.0" cy="170.6" r="2.7" fill="#40ffbf"/>
<circle cx="313.4" cy="166.4" r="2.7" fill="#ffca00"/>
<circle cx="286.5" cy="179.6" r="2.7" fill="#000080"/>
<circle cx="345.2" cy="182.6" r="2.7" fill="#31ffce"/>
<circle cx="364.9" cy="93.9" r="2.7" fill="#0000c6"/>
<circle cx="301.3" cy="181.0" r="2.7" fill="#000094"/>
<circle cx="329.8" cy="183.4" r="2.7" fill="#000080"/>
<circle cx="349.8" cy="114.9" r="2.7" fill="#0000a3"/>
<circle cx="321.2" cy="184.0" r="2.7" fill="#0000c5"/>
<circle cx="392.4" cy="171.1" r="2.7" fill="#ff9200"/>
<circle cx="392.8" cy="162.8" r="2.7" fill="#f2ff0d"/>
<circle cx="317.0" cy="127.5" r="2.7" fill="#0000c9"/>
<circle cx="360.0" cy="108.8" r="2.7" fill="#03fffc"/>
<circle cx="363.3" cy="169.9" r="2.7" fill="#ff8100"/>
<circle cx="292.1" cy="155.0" r="2.7" fill="#d9ff26"/>
<circle cx="295.5" cy="154.0" r="2.7" fill="#0087ff"/>
<circle cx="363.8" cy="171.4" r="2.7" fill="#ffbe00"/>
<circle cx="350.8" cy="167.8" r="2.7" fill="#31ffce"/>
<circle cx="323.9" cy="170.0" r="2.7" fill="#00caff"/>
<circle cx="276.0" cy="172.5" r="2.7" fill="#000080"/>
<circle cx="291.2" cy="152.0" r="2.7" fill="#eeff11"/>
<circle cx="350.1" cy="109.9" r="2.7" fill="#6fff90"/>
<circle cx="344.2" cy="168.4" r="2.7" fill="#ffdd00"/>
<circle cx="377.1" cy="194.7" r="2.7" fill="#0060ff"/>
<circle cx="372.0" cy="132.0" r="2.7" fill="#000080"/>
<circle cx="430.6" cy="161.8" r="2.7" fill="#3fffc0"/>
<circle cx="293.3" cy="139.4" r="2.7" fill="#000080"/>
<circle cx="300.7" cy="171.5" r="2.7" fill="#000094"/>
<circle cx="358.6" cy="117.5" r="2.7" fill="#000092"/>
<circle cx="378.8" cy="167.7" r="2.7" fill="#b0ff4f"/>
<circle cx="320.5" cy="130.0" r="2.7" fill="#0072ff"/>
<circle cx="364.5" cy="176.5" r="2.7" fill="#17ffe8"/>
<circle cx="287.4" cy="147.0" r="2.7" fill="#0050ff"/>
<circle cx="399.1" cy="186.6" r="2.7" fill="#0000f9"/>
<circle cx="366.6" cy="105.6" r="2.7" fill="#000081"/>
<circle cx="365.2" cy="166.0" r="2.7" fill="#a8ff57"/>
<circle cx="391.2" cy="179.5" r="2.7" fill="#00e0ff"/>
<circle cx="421.4" cy="171.1" r="2.7" fill="#3effc1"/>
<circle cx="359.2" cy="167.1" r="2.7" fill="#00ddff"/>
<circle cx="417.5" cy="176.4" r="2.7" fill="#000084"/>
<circle cx="363.4" cy="176.8" r="2.7" fill="#39ffc6"/>
<circle cx="310.8" cy="133.6" r="2.7" fill="#69ff96"/>
<circle cx="299.6" cy="148.4" r="2.7" fill="#0000b9"/>
<circle cx="288.2" cy="148.2" r="2.7" fill="#daff25"/>
<circle cx="358.5" cy="110.5" r="2.7" fill="#cdff32"/>
<circle cx="350.3" cy="174.3" r="2.7" fill="#e6ff19"/>
<circle cx="353.7" cy="100.4" r="2.7" fill="#ffc800"/>
<circle cx="301.1" cy="146.6" r="2.7" fill="#002cff"/>
<circle cx="334.2" cy="152.3" r="2.7" fill="#000094"/>
<circle cx="374.5" cy="181.2" r="2.7" fill="#00f0ff"/>
<circle cx="349.6" cy="180.1" r="2.7" fill="#003eff"/>
<circle cx="305.3" cy="180.9" r="2.7" fill="#0000d5"/>
<circle cx="323.3" cy="173.7" r="2.7" fill="#00c5ff"/>
<circle cx="292.0" cy="171.4" r="2.7" fill="#0051ff"/>
<circle cx="392.1" cy="176.3" r="2.7" fill="#00e3ff"/>
<circle cx="311.7" cy="120.5" r="2.7" fill="#00008c"/>
<circle cx="431.9" cy="155.4" r="2.7" fill="#0098ff"/>
<circle cx="375.0" cy="162.4" r="2.7" fill="#a3ff5c"/>
<circle cx="369.3" cy="168.2" r="2.7" fill="#ffb900"/>
<circle cx="426.6" cy="166.3" r="2.7" fill="#bbff44"/>
<circle cx="281.5" cy="161.4" r="2.7" fill="#67ff98"/>
<circle cx="292.0" cy="162.2" r="2.7" fill="#00a3ff"/>
<circle cx="403.1" cy="172.7" r="2.7" fill="#000080"/>
<circle cx="336.6" cy="170.6" r="2.7" fill="#ff4700"/>
<circle cx="310.2" cy="145.2" r="2.7" fill="#acff53"/>
<circle cx="353.1" cy="99.8" r="2.7" fill="#ffe500"/>
<circle cx="293.5" cy="110.0" r="2.7" fill="#0080ff"/>
<circle cx="290.9" cy="150.2" r="2.7" fill="#4dffb2"/>
<circle cx="320.4" cy="158.3" r="2.7" fill="#0016ff"/>
<circle cx="340.5" cy="171.4" r="2.7" fill="#ffc000"/>
<circle cx="430.0" cy="152.6" r="2.7" fill="#88ff77"/>
<circle cx="300.0" cy="128.6" r="2.7" fill="#009fff"/>
<circle cx="319.7" cy="166.5" r="2.7" fill="#ff9900"/>
<circle cx="344.4" cy="96.5" r="2.7" fill="#0000e4"/>
<circle cx="407.4" cy="155.3" r="2.7" fill="#00d5ff"/>
<circle cx="355.9" cy="101.1" r="2.7" fill="#ffa500"/>
<circle cx="395.7" cy="183.9" r="2.7" fill="#003fff"/>
<circle cx="320.8" cy="153.1" r="2.7" fill="#001dff"/>
<circle cx="368.2" cy="155.7" r="2.7" fill="#0000da"/>
<circle cx="396.8" cy="169.1" r="2.7" fill="#00d5ff"/>
<circle cx="288.2" cy="151.4" r="2.7" fill="#ff9000"/>
<circle cx="290.0" cy="155.8" r="2.7" fill="#ffa900"/>
<circle cx="349.8" cy="98.0" r="2.7" fill="#13ffec"/>
<circle cx="420.0" cy="183.0" r="2.7" fill="#000080"/>
<circle cx="295.8" cy="150.8" r="2.7" fill="#0000ec"/>
<circle cx="368.7" cy="173.8" r="2.7" fill="#ffff00"/>
<circle cx="285.2" cy="144.5" r="2.7" fill="#000080"/>
<circle cx="357.3" cy="111.1" r="2.7" fill="#ffd800"/>
<circle cx="424.4" cy="145.7" r="2.7" fill="#0dfff2"/>
<circle cx="385.1" cy="173.7" r="2.7" fill="#0081ff"/>
<circle cx="398.2" cy="177.8" r="2.7" fill="#0000fd"/>
<circle cx="387.5" cy="164.8" r="2.7" fill="#09fff6"/>
<circle cx="344.8" cy="156.7" r="2.7" fill="#00abff"/>
<circle cx="308.9" cy="119.9" r="2.7" fill="#005aff"/>
<circle cx="319.5" cy="98.0" r="2.7" fill="#0080ff"/>
<circle cx="397.1" cy="170.7" r="2.7" fill="#cdff32"/>
<circle cx="279.9" cy="152.5" r="2.7" fill="#85ff7a"/>
<circle cx="360.3" cy="101.3" r="2.7" fill="#ff5f00"/>
<circle cx="292.9" cy="155.5" r="2.7" fill="#00a4ff"/>
<circle cx="303.5" cy="166.6" r="2.7" fill="#000094"/>
<circle cx="403.7" cy="180.6" r="2.7" fill="#000096"/>
<circle cx="363.3" cy="173.4" r="2.7" fill="#62ff9d"/>
<circle cx="313.0" cy="129.7" r="2.7" fill="#0083ff"/>
<circle cx="327.4" cy="149.9" r="2.7" fill="#000080"/>
<circle cx="346.7" cy="185.4" r="2.7" fill="#00ebff"/>
<circle cx="350.7" cy="157.5" r="2.7" fill="#0015ff"/>
<circle cx="310.2" cy="162.7" r="2.7" fill="#00deff"/>
<circle cx="319.2" cy="162.1" r="2.7" fill="#acff53"/>
<circle cx="306.8" cy="131.4" r="2.7" fill="#ffdd00"/>
<circle cx="346.9" cy="176.6" r="2.7" fill="#00aaff"/>
<circle cx="295.5" cy="149.2" r="2.7" fill="#0018ff"/>
<circle cx="340.3" cy="164.7" r="2.7" fill="#cfff30"/>
<circle cx="291.0" cy="113.5" r="2.7" fill="#0080ff"/>
<circle cx="372.0" cy="179.9" r="2.7" fill="#68ff97"/>
<circle cx="307.3" cy="143.8" r="2.7" fill="#78ff87"/>
<circle cx="337.6" cy="196.1" r="2.7" fill="#0080ff"/>
<circle cx="394.8" cy="162.9" r="2.7" fill="#00ccff"/>
<circle cx="288.8" cy="167.1" r="2.7" fill="#1cffe3"/>
<circle cx="320.0" cy="172.8" r="2.7" fill="#cdff32"/>
<circle cx="414.2" cy="162.0" r="2.7" fill="#4effb1"/>
<circle cx="391.9" cy="159.1" r="2.7" fill="#9dff62"/>
<circle cx="392.0" cy="168.5" r="2.7" fill="#00f8ff"/>
<circle cx="304.5" cy="142.9" r="2.7" fill="#44ffbb"/>
<circle cx="368.7" cy="167.1" r="2.7" fill="#99ff66"/>
<circle cx="311.4" cy="133.2" r="2.7" fill="#95ff6a"/>
<circle cx="420.0" cy="111.0" r="2.7" fill="#000080"/>
<circle cx="358.6" cy="92.2" r="2.7" fill="#000080"/>
<circle cx="344.0" cy="161.2" r="2.7" fill="#a9ff56"/>
<circle cx="348.8" cy="95.7" r="2.7" fill="#000097"/>
<circle cx="300.7" cy="127.8" r="2.7" fill="#00faff"/>
<circle cx="383.5" cy="167.0" r="2.7" fill="#0000dc"/>
<circle cx="427.7" cy="151.9" r="2.7" fill="#30ffcf"/>
<circle cx="296.8" cy="133.4" r="2.7" fill="#0000e5"/>
<circle cx="306.0" cy="115.1" r="2.7" fill="#000080"/>
<circle cx="382.4" cy="179.2" r="2.7" fill="#003cff"/>
<circle cx="396.6" cy="164.5" r="2.7" fill="#ff7100"/>
<circle cx="320.0" cy="171.1" r="2.7" fill="#36ffc9"/>
<circle cx="368.5" cy="181.6" r="2.7" fill="#008dff"/>
<circle cx="405.3" cy="170.6" r="2.7" fill="#000094"/>
<circle cx="289.5" cy="155.5" r="2.7" fill="#ff8800"/>
<circle cx="309.9" cy="155.0" r="2.7" fill="#000080"/>
<circle cx="353.4" cy="156.5" r="2.7" fill="#000080"/>
<circle cx="321.4" cy="174.7" r="2.7" fill="#5cffa3"/>
<circle cx="362.0" cy="88.0" r="2.7" fill="#000080"/>
<circle cx="396.6" cy="175.3" r="2.7" fill="#1effe1"/>
<circle cx="355.8" cy="122.5" r="2.7" fill="#004eff"/>
<circle cx="314.3" cy="162.0" r="2.7" fill="#d8ff27"/>
<circle cx="289.1" cy="147.1" r="2.7" fill="#2bffd4"/>
<circle cx="349.4" cy="111.3" r="2.7" fill="#0064ff"/>
<circle cx="356.1" cy="103.4" r="2.7" fill="#ff9e00"/>
<circle cx="383.2" cy="166.3" r="2.7" fill="#0078ff"/>
<circle cx="355.7" cy="186.0" r="2.7" fill="#0000e8"/>
<circle cx="297.9" cy="139.2" r="2.7" fill="#000080"/>
<circle cx="422.0" cy="116.0" r="2.7" fill="#000080"/>
<circle cx="391.1" cy="179.1" r="2.7" fill="#00f8ff"/>
<circle cx="378.3" cy="173.9" r="2.7" fill="#000094"/>
<circle cx="298.5" cy="167.8" r="2.7" fill="#000094"/>
<circle cx="367.5" cy="168.9" r="2.7" fill="#ffc200"/>
<circle cx="310.1" cy="123.5" r="2.7" fill="#0005ff"/>
<circle cx="344.0" cy="133.0" r="2.7" fill="#000080"/>
<circle cx="315.4" cy="137.0" r="2.7" fill="#00a7ff"/>
<circle cx="356.0" cy="169.6" r="2.7" fill="#0000e1"/>
<circle cx="313.6" cy="136.2" r="2.7" fill="#51ffae"/>
<circle cx="360.4" cy="106.8" r="2.7" fill="#96ff69"/>
<circle cx="373.7" cy="170.3" r="2.7" fill="#0030ff"/>
<circle cx="359.0" cy="85.0" r="2.7" fill="#000080"/>
<circle cx="356.4" cy="123.3" r="2.7" fill="#000080"/>
<circle cx="313.2" cy="172.8" r="2.7" fill="#00c6ff"/>
<circle cx="428.3" cy="154.8" r="2.7" fill="#007eff"/>
<circle cx="389.8" cy="163.8" r="2.7" fill="#ceff31"/>
<circle cx="394.9" cy="190.6" r="2.7" fill="#000082"/>
<circle cx="355.6" cy="177.7" r="2.7" fill="#000094"/>
<circle cx="432.5" cy="160.3" r="2.7" fill="#0063ff"/>
<circle cx="314.7" cy="138.3" r="2.7" fill="#00b1ff"/>
<circle cx="314.3" cy="138.3" r="2.7" fill="#00f7ff"/>
<circle cx="376.7" cy="168.4" r="2.7" fill="#72ff8d"/>
<circle cx="360.5" cy="109.2" r="2.7" fill="#00caff"/>
<circle cx="428.5" cy="155.1" r="2.7" fill="#00b1ff"/>
<circle cx="313.8" cy="167.6" r="2.7" fill="#fff900"/>
<circle cx="332.4" cy="158.0" r="2.7" fill="#002cff"/>
<circle cx="321.0" cy="199.5" r="2.7" fill="#000080"/>
<circle cx="335.7" cy="169.5" r="2.7" fill="#0afff5"/>
<circle cx="392.9" cy="182.2" r="2.7" fill="#0000bf"/>
<circle cx="302.4" cy="171.2" r="2.7" fill="#000080"/>
<circle cx="362.9" cy="107.4" r="2.7" fill="#0092ff"/>
<circle cx="329.4" cy="151.5" r="2.7" fill="#000094"/>
<circle cx="323.9" cy="172.0" r="2.7" fill="#00afff"/>
<circle cx="354.5" cy="162.8" r="2.7" fill="#007cff"/>
<circle cx="277.9" cy="172.3" r="2.7" fill="#000080"/>
<circle cx="307.5" cy="136.5" r="2.7" fill="#ff5e00"/>
<circle cx="304.5" cy="181.4" r="2.7" fill="#000080"/>
<circle cx="364.2" cy="179.1" r="2.7" fill="#00daff"/>
<circle cx="311.1" cy="170.8" r="2.7" fill="#b6ff49"/>
<circle cx="362.5" cy="165.6" r="2.7" fill="#6bff94"/>
<circle cx="312.5" cy="171.7" r="2.7" fill="#b9ff46"/>
<circle cx="373.2" cy="167.6" r="2.7" fill="#62ff9d"/>
<circle cx="392.4" cy="179.2" r="2.7" fill="#0051ff"/>
<circle cx="319.9" cy="194.8" r="2.7" fill="#000080"/>
<circle cx="416.7" cy="171.9" r="2.7" fill="#00fbff"/>
<circle cx="331.8" cy="159.7" r="2.7" fill="#000094"/>
<circle cx="433.1" cy="139.3" r="2.7" fill="#0000df"/>
<circle cx="341.7" cy="163.6" r="2.7" fill="#ffa500"/>
<circle cx="347.5" cy="96.3" r="2.7" fill="#0000ce"/>
<circle cx="371.7" cy="172.6" r="2.7" fill="#ffc100"/>
<circle cx="285.4" cy="163.4" r="2.7" fill="#0094ff"/>
<circle cx="321.0" cy="172.4" r="2.7" fill="#ffde00"/>
<circle cx="318.9" cy="128.1" r="2.7" fill="#00f6ff"/>
<circle cx="366.4" cy="169.7" r="2.7" fill="#a7ff58"/>
<circle cx="396.5" cy="175.9" r="2.7" fill="#32ffcd"/>
<circle cx="351.9" cy="184.4" r="2.7" fill="#0000db"/>
<circle cx="325.1" cy="177.5" r="2.7" fill="#0032ff"/>
<circle cx="320.8" cy="139.4" r="2.7" fill="#000080"/>
<circle cx="369.3" cy="181.0" r="2.7" fill="#a5ff5a"/>
<circle cx="353.3" cy="178.0" r="2.7" fill="#000094"/>
<circle cx="430.6" cy="164.3" r="2.7" fill="#88ff77"/>
<circle cx="347.8" cy="102.1" r="2.7" fill="#0000bd"/>
<circle cx="368.7" cy="180.7" r="2.7" fill="#2dffd2"/>
<circle cx="321.9" cy="160.0" r="2.7" fill="#ffe600"/>
<circle cx="340.2" cy="171.8" r="2.7" fill="#f4ff0b"/>
<circle cx="368.2" cy="168.4" r="2.7" fill="#dd0000"/>
<circle cx="300.9" cy="176.8" r="2.7" fill="#000094"/>
<circle cx="289.6" cy="147.5" r="2.7" fill="#24ffdb"/>
<circle cx="307.0" cy="133.4" r="2.7" fill="#ffff00"/>
<circle cx="317.1" cy="175.9" r="2.7" fill="#a1ff5e"/>
<circle cx="280.8" cy="157.2" r="2.7" fill="#00bbff"/>
<circle cx="297.0" cy="137.6" r="2.7" fill="#2dffd2"/>
<circle cx="302.8" cy="159.6" r="2.7" fill="#0054ff"/>
<circle cx="380.8" cy="162.8" r="2.7" fill="#0000f8"/>
<circle cx="400.2" cy="171.0" r="2.7" fill="#00f1ff"/>
<circle cx="343.0" cy="127.0" r="2.7" fill="#000080"/>
<circle cx="350.9" cy="191.4" r="2.7" fill="#0000c1"/>
<circle cx="294.4" cy="157.7" r="2.7" fill="#ffe600"/>
<circle cx="384.8" cy="175.8" r="2.7" fill="#000080"/>
<circle cx="382.8" cy="170.5" r="2.7" fill="#9aff65"/>
<circle cx="396.3" cy="161.1" r="2.7" fill="#7fff80"/>
<circle cx="390.9" cy="164.4" r="2.7" fill="#ffd200"/>
<circle cx="316.8" cy="173.0" r="2.7" fill="#40ffbf"/>
<circle cx="419.1" cy="154.3" r="2.7" fill="#ff6500"/>
<circle cx="276.5" cy="169.7" r="2.7" fill="#000094"/>
<circle cx="308.3" cy="151.5" r="2.7" fill="#0027ff"/>
<circle cx="297.6" cy="173.8" r="2.7" fill="#000094"/>
<circle cx="365.6" cy="157.0" r="2.7" fill="#23ffdc"/>
<circle cx="317.0" cy="97.0" r="2.7" fill="#000080"/>
<circle cx="391.6" cy="168.7" r="2.7" fill="#9fff60"/>
<circle cx="356.8" cy="96.0" r="2.7" fill="#ffd400"/>
<circle cx="371.2" cy="171.3" r="2.7" fill="#ffe900"/>
<circle cx="345.6" cy="179.0" r="2.7" fill="#8aff75"/>
<circle cx="287.9" cy="153.1" r="2.7" fill="#59ffa6"/>
<circle cx="393.8" cy="180.7" r="2.7" fill="#6cff93"/>
<circle cx="291.2" cy="140.1" r="2.7" fill="#000083"/>
<circle cx="316.0" cy="92.0" r="2.7" fill="#000080"/>
<circle cx="307.1" cy="121.1" r="2.7" fill="#07fff8"/>
<circle cx="386.4" cy="165.5" r="2.7" fill="#000080"/>
<circle cx="304.3" cy="133.2" r="2.7" fill="#ffc000"/>
<circle cx="390.8" cy="179.9" r="2.7" fill="#21ffde"/>
<circle cx="294.9" cy="148.6" r="2.7" fill="#0091ff"/>
<circle cx="315.2" cy="130.3" r="2.7" fill="#00b6ff"/>
<circle cx="302.4" cy="134.1" r="2.7" fill="#10ffef"/>
<circle cx="337.3" cy="171.7" r="2.7" fill="#d9ff26"/>
<circle cx="339.6" cy="187.3" r="2.7" fill="#0000b3"/>
<circle cx="309.7" cy="181.4" r="2.7" fill="#000080"/>
<circle cx="361.7" cy="112.0" r="2.7" fill="#51ffae"/>
<circle cx="360.7" cy="177.9" r="2.7" fill="#00c6ff"/>
<circle cx="351.8" cy="98.4" r="2.7" fill="#ceff31"/>
<circle cx="357.6" cy="110.2" r="2.7" fill="#60ff9f"/>
<circle cx="300.5" cy="133.7" r="2.7" fill="#bbff44"/>
<circle cx="364.5" cy="185.8" r="2.7" fill="#27ffd8"/>
<circle cx="346.6" cy="175.1" r="2.7" fill="#ffb200"/>
<circle cx="395.6" cy="167.4" r="2.7" fill="#fcff03"/>
<circle cx="421.5" cy="157.6" r="2.7" fill="#a0ff5f"/>
<circle cx="308.5" cy="136.0" r="2.7" fill="#ffdb00"/>
<circle cx="400.2" cy="173.0" r="2.7" fill="#0058ff"/>
<circle cx="297.9" cy="133.3" r="2.7" fill="#004aff"/>
<circle cx="356.3" cy="96.0" r="2.7" fill="#00c1ff"/>
<circle cx="298.5" cy="173.2" r="2.7" fill="#000094"/>
<circle cx="315.4" cy="141.7" r="2.7" fill="#dfff20"/>
<circle cx="357.8" cy="99.6" r="2.7" fill="#ff8f00"/>
<circle cx="416.4" cy="159.8" r="2.7" fill="#ffcd00"/>
<circle cx="395.1" cy="166.8" r="2.7" fill="#fff700"/>
<circle cx="289.3" cy="159.4" r="2.7" fill="#ffff00"/>
<circle cx="348.2" cy="166.7" r="2.7" fill="#fff800"/>
<circle cx="312.0" cy="135.7" r="2.7" fill="#f8ff07"/>
<circle cx="318.0" cy="173.7" r="2.7" fill="#3effc1"/>
<circle cx="293.2" cy="154.3" r="2.7" fill="#51ffae"/>
<circle cx="349.2" cy="162.6" r="2.7" fill="#0034ff"/>
<circle cx="392.4" cy="151.4" r="2.7" fill="#000080"/>
<circle cx="348.6" cy="165.3" r="2.7" fill="#4cffb3"/>
<circle cx="334.9" cy="181.5" r="2.7" fill="#0000e7"/>
<circle cx="395.5" cy="168.0" r="2.7" fill="#ffef00"/>
<circle cx="298.3" cy="176.3" r="2.7" fill="#000094"/>
<circle cx="368.3" cy="180.2" r="2.7" fill="#5affa5"/>
<circle cx="284.7" cy="151.5" r="2.7" fill="#ffa200"/>
<circle cx="315.0" cy="166.4" r="2.7" fill="#ea0000"/>
<circle cx="346.8" cy="185.6" r="2.7" fill="#0058ff"/>
<circle cx="418.6" cy="161.7" r="2.7" fill="#ffa500"/>
<circle cx="294.1" cy="130.0" r="2.7" fill="#000080"/>
<circle cx="389.1" cy="172.8" r="2.7" fill="#fff500"/>
<circle cx="304.3" cy="139.0" r="2.7" fill="#00acff"/>
<circle cx="358.5" cy="98.5" r="2.7" fill="#ffe700"/>
<circle cx="339.3" cy="165.1" r="2.7" fill="#00d2ff"/>
<circle cx="323.0" cy="172.1" r="2.7" fill="#00faff"/>
<circle cx="369.8" cy="173.2" r="2.7" fill="#ff0a00"/>
<circle cx="435.3" cy="137.8" r="2.7" fill="#000080"/>
<circle cx="321.6" cy="181.8" r="2.7" fill="#000086"/>
<circle cx="368.7" cy="183.3" r="2.7" fill="#f6ff09"/>
<circle cx="283.0" cy="148.8" r="2.7" fill="#0084ff"/>
<circle cx="397.0" cy="180.0" r="2.7" fill="#0000f0"/>
<circle cx="283.8" cy="148.9" r="2.7" fill="#ffc600"/>
<circle cx="286.3" cy="149.9" r="2.7" fill="#7cff83"/>
<circle cx="425.8" cy="159.4" r="2.7" fill="#f3ff0c"/>
<circle cx="362.9" cy="166.8" r="2.7" fill="#2cffd3"/>
<circle cx="386.2" cy="177.0" r="2.7" fill="#00beff"/>
<circle cx="366.6" cy="174.1" r="2.7" fill="#12ffed"/>
<circle cx="374.7" cy="184.2" r="2.7" fill="#16ffe9"/>
<circle cx="287.9" cy="150.6" r="2.7" fill="#0075ff"/>
<circle cx="350.7" cy="177.0" r="2.7" fill="#0084ff"/>
<circle cx="356.5" cy="91.6" r="2.7" fill="#0011ff"/>
<circle cx="421.9" cy="150.7" r="2.7" fill="#ff9800"/>
<circle cx="340.7" cy="176.2" r="2.7" fill="#57ffa8"/>
<circle cx="286.8" cy="154.3" r="2.7" fill="#ba0000"/>
<circle cx="426.8" cy="171.6" r="2.7" fill="#0023ff"/>
<circle cx="361.3" cy="182.6" r="2.7" fill="#00b3ff"/>
<circle cx="421.9" cy="155.1" r="2.7" fill="#ff7f00"/>
<circle cx="368.2" cy="161.7" r="2.7" fill="#ff8f00"/>
<circle cx="320.5" cy="161.5" r="2.7" fill="#00b3ff"/>
<circle cx="358.7" cy="99.1" r="2.7" fill="#ffad00"/>
<circle cx="379.0" cy="195.6" r="2.7" fill="#000080"/>
<circle cx="290.7" cy="152.1" r="2.7" fill="#ffdc00"/>
<circle cx="398.0" cy="129.0" r="2.7" fill="#000080"/>
<circle cx="320.0" cy="162.1" r="2.7" fill="#00fcff"/>
<circle cx="316.3" cy="159.6" r="2.7" fill="#00b9ff"/>
<circle cx="316.8" cy="136.2" r="2.7" fill="#2affd5"/>
<circle cx="312.6" cy="133.8" r="2.7" fill="#00afff"/>
<circle cx="310.6" cy="169.6" r="2.7" fill="#00f7ff"/>
<circle cx="317.9" cy="146.3" r="2.7" fill="#0000d8"/>
<circle cx="316.8" cy="142.1" r="2.7" fill="#91ff6e"/>
<circle cx="371.0" cy="180.9" r="2.7" fill="#4bffb4"/>
<circle cx="300.0" cy="176.5" r="2.7" fill="#000094"/>
<circle cx="391.6" cy="160.1" r="2.7" fill="#ffea00"/>
<circle cx="299.7" cy="143.5" r="2.7" fill="#0000bb"/>
<circle cx="345.8" cy="167.6" r="2.7" fill="#fff300"/>
<circle cx="425.1" cy="142.7" r="2.7" fill="#0000fa"/>
<circle cx="314.9" cy="141.3" r="2.7" fill="#24ffdb"/>
<circle cx="417.4" cy="158.9" r="2.7" fill="#55ffaa"/>
<circle cx="434.3" cy="159.0" r="2.7" fill="#003aff"/>
<circle cx="357.2" cy="110.0" r="2.7" fill="#c9ff36"/>
<circle cx="425.9" cy="168.6" r="2.7" fill="#00adff"/>
<circle cx="361.4" cy="107.6" r="2.7" fill="#00e2ff"/>
<circle cx="315.3" cy="121.7" r="2.7" fill="#000080"/>
<circle cx="314.8" cy="165.6" r="2.7" fill="#ff6d00"/>
<circle cx="347.2" cy="165.7" r="2.7" fill="#ffed00"/>
<circle cx="422.5" cy="167.1" r="2.7" fill="#05fffa"/>
<circle cx="392.3" cy="169.2" r="2.7" fill="#2fffd0"/>
<circle cx="419.1" cy="151.1" r="2.7" fill="#ffec00"/>
<circle cx="374.0" cy="165.8" r="2.7" fill="#00a6ff"/>
<circle cx="393.8" cy="170.6" r="2.7" fill="#aaff55"/>
<circle cx="292.5" cy="151.8" r="2.7" fill="#80ff7f"/>
<circle cx="372.1" cy="162.9" r="2.7" fill="#00fbff"/>
<circle cx="318.8" cy="162.8" r="2.7" fill="#ffb100"/>
<circle cx="374.8" cy="180.0" r="2.7" fill="#9dff62"/>
<circle cx="295.2" cy="148.7" r="2.7" fill="#0060ff"/>
<circle cx="306.8" cy="127.1" r="2.7" fill="#e8ff17"/>
<circle cx="374.4" cy="180.1" r="2.7" fill="#00ccff"/>
<circle cx="410.8" cy="165.5" r="2.7" fill="#9dff62"/>
<circle cx="285.1" cy="153.3" r="2.7" fill="#d1ff2e"/>
<circle cx="310.7" cy="136.3" r="2.7" fill="#beff41"/>
<circle cx="387.9" cy="169.1" r="2.7" fill="#00d6ff"/>
<circle cx="312.8" cy="170.7" r="2.7" fill="#ffff00"/>
<circle cx="363.2" cy="154.2" r="2.7" fill="#000080"/>
<circle cx="291.3" cy="159.5" r="2.7" fill="#ffdc00"/>
<circle cx="393.2" cy="167.2" r="2.7" fill="#ffbb00"/>
<circle cx="351.0" cy="159.7" r="2.7" fill="#00c5ff"/>
<circle cx="431.9" cy="139.9" r="2.7" fill="#000080"/>
<circle cx="368.8" cy="173.5" r="2.7" fill="#cb0000"/>
<circle cx="404.4" cy="156.8" r="2.7" fill="#0099ff"/>
<circle cx="362.6" cy="173.5" r="2.7" fill="#6eff91"/>
<circle cx="402.2" cy="154.2" r="2.7" fill="#000080"/>
<circle cx="357.3" cy="106.9" r="2.7" fill="#9d0000"/>
<circle cx="357.2" cy="112.7" r="2.7" fill="#00f2ff"/>
<circle cx="365.9" cy="172.6" r="2.7" fill="#83ff7c"/>
<circle cx="346.0" cy="166.6" r="2.7" fill="#ff3c00"/>
<circle cx="361.9" cy="109.6" r="2.7" fill="#00faff"/>
<circle cx="289.0" cy="159.2" r="2.7" fill="#ff7100"/>
<circle cx="305.0" cy="139.5" r="2.7" fill="#e2ff1d"/>
<circle cx="422.8" cy="154.7" r="2.7" fill="#70ff8f"/>
<circle cx="430.8" cy="153.7" r="2.7" fill="#00cfff"/>
<circle cx="352.0" cy="102.3" r="2.7" fill="#ffe600"/>
<circle cx="346.3" cy="162.8" r="2.7" fill="#1bffe4"/>
<circle cx="417.3" cy="155.1" r="2.7" fill="#fff400"/>
<circle cx="368.8" cy="180.3" r="2.7" fill="#2affd5"/>
<circle cx="302.7" cy="135.7" r="2.7" fill="#ffc700"/>
<circle cx="410.0" cy="163.4" r="2.7" fill="#6eff91"/>
<circle cx="427.0" cy="112.0" r="2.7" fill="#0080ff"/>
<circle cx="395.0" cy="174.2" r="2.7" fill="#7fff80"/>
<circle cx="291.5" cy="149.3" r="2.7" fill="#8dff72"/>
<circle cx="351.6" cy="171.5" r="2.7" fill="#ffc700"/>
<circle cx="430.2" cy="161.1" r="2.7" fill="#77ff88"/>
<circle cx="344.4" cy="88.2" r="2.7" fill="#000080"/>
<circle cx="308.6" cy="188.9" r="2.7" fill="#0000a9"/>
<circle cx="369.4" cy="174.0" r="2.7" fill="#a1ff5e"/>
<circle cx="300.9" cy="132.1" r="2.7" fill="#0086ff"/>
<circle cx="386.8" cy="164.1" r="2.7" fill="#52ffad"/>
<circle cx="349.5" cy="95.8" r="2.7" fill="#00dbff"/>
<circle cx="305.3" cy="131.8" r="2.7" fill="#bdff42"/>
<circle cx="424.3" cy="151.6" r="2.7" fill="#ffac00"/>
<circle cx="278.5" cy="171.4" r="2.7" fill="#0000c8"/>
<circle cx="394.8" cy="169.3" r="2.7" fill="#ff5c00"/>
<circle cx="396.4" cy="172.8" r="2.7" fill="#b3ff4c"/>
<circle cx="307.7" cy="173.6" r="2.7" fill="#00c9ff"/>
<circle cx="343.0" cy="158.4" r="2.7" fill="#8cff73"/>
<circle cx="386.0" cy="186.7" r="2.7" fill="#000080"/>
<circle cx="391.8" cy="169.1" r="2.7" fill="#a7ff58"/>
<circle cx="347.1" cy="108.2" r="2.7" fill="#00e9ff"/>
<circle cx="334.1" cy="161.7" r="2.7" fill="#39ffc6"/>
<circle cx="313.3" cy="123.3" r="2.7" fill="#0017ff"/>
<circle cx="350.2" cy="109.6" r="2.7" fill="#8fff70"/>
<circle cx="421.1" cy="160.7" r="2.7" fill="#cfff30"/>
<circle cx="357.9" cy="94.9" r="2.7" fill="#00a4ff"/>
<circle cx="416.9" cy="155.9" r="2.7" fill="#c1ff3e"/>
<circle cx="367.7" cy="177.4" r="2.7" fill="#ffd900"/>
<circle cx="356.1" cy="110.6" r="2.7" fill="#a5ff5a"/>
<circle cx="297.9" cy="159.4" r="2.7" fill="#00d5ff"/>
<circle cx="394.0" cy="171.5" r="2.7" fill="#9aff65"/>
<circle cx="372.9" cy="165.7" r="2.7" fill="#ffd500"/>
<circle cx="395.4" cy="171.8" r="2.7" fill="#65ff9a"/>
<circle cx="353.9" cy="181.2" r="2.7" fill="#000094"/>
<circle cx="374.1" cy="171.5" r="2.7" fill="#ff1000"/>
<circle cx="314.8" cy="136.5" r="2.7" fill="#ffff00"/>
<circle cx="391.5" cy="155.5" r="2.7" fill="#0086ff"/>
<circle cx="327.0" cy="171.1" r="2.7" fill="#007eff"/>
<circle cx="343.6" cy="170.1" r="2.7" fill="#ff7d00"/>
<circle cx="303.3" cy="149.2" r="2.7" fill="#0022ff"/>
<circle cx="293.1" cy="160.1" r="2.7" fill="#f5ff0a"/>
<circle cx="352.7" cy="162.6" r="2.7" fill="#0062ff"/>
<circle cx="373.8" cy="173.6" r="2.7" fill="#00daff"/>
<circle cx="312.3" cy="167.6" r="2.7" fill="#ffdb00"/>
<circle cx="294.5" cy="123.4" r="2.7" fill="#000cff"/>
<circle cx="343.8" cy="166.9" r="2.7" fill="#ff8800"/>
<circle cx="314.1" cy="162.6" r="2.7" fill="#60ff9f"/>
<circle cx="357.9" cy="107.4" r="2.7" fill="#afff50"/>
<circle cx="422.1" cy="157.5" r="2.7" fill="#800000"/>
<circle cx="361.0" cy="187.3" r="2.7" fill="#0000ea"/>
<circle cx="357.7" cy="48.5" r="2.7" fill="#0080ff"/>
<circle cx="314.2" cy="139.7" r="2.7" fill="#0098ff"/>
<circle cx="409.9" cy="157.0" r="2.7" fill="#0dfff2"/>
<circle cx="283.1" cy="148.1" r="2.7" fill="#0090ff"/>
<circle cx="311.2" cy="134.1" r="2.7" fill="#00a3ff"/>
<circle cx="311.2" cy="137.3" r="2.7" fill="#00f8ff"/>
<circle cx="353.2" cy="95.7" r="2.7" fill="#20ffdf"/>
<circle cx="369.3" cy="177.4" r="2.7" fill="#ffb500"/>
<circle cx="341.0" cy="203.5" r="2.7" fill="#000080"/>
<circle cx="433.2" cy="152.3" r="2.7" fill="#006dff"/>
<circle cx="302.1" cy="138.1" r="2.7" fill="#ffee00"/>
<circle cx="313.5" cy="131.7" r="2.7" fill="#23ffdc"/>
<circle cx="344.1" cy="197.5" r="2.7" fill="#000087"/>
<circle cx="286.1" cy="156.9" r="2.7" fill="#ffd400"/>
<circle cx="385.4" cy="152.6" r="2.7" fill="#0084ff"/>
<circle cx="300.2" cy="136.4" r="2.7" fill="#6eff91"/>
<circle cx="316.6" cy="168.4" r="2.7" fill="#ffc400"/>
<circle cx="341.2" cy="173.7" r="2.7" fill="#bfff40"/>
<circle cx="397.5" cy="148.5" r="2.7" fill="#000080"/>
<circle cx="429.9" cy="163.3" r="2.7" fill="#86ff79"/>
<circle cx="315.9" cy="136.3" r="2.7" fill="#005aff"/>
<circle cx="306.1" cy="138.5" r="2.7" fill="#ff8d00"/>
<circle cx="294.6" cy="158.8" r="2.7" fill="#00d4ff"/>
<circle cx="416.4" cy="163.5" r="2.7" fill="#00a6ff"/>
<circle cx="427.9" cy="145.9" r="2.7" fill="#0000d2"/>
<circle cx="306.8" cy="143.9" r="2.7" fill="#00eaff"/>
<circle cx="310.9" cy="158.4" r="2.7" fill="#002bff"/>
<circle cx="295.1" cy="164.1" r="2.7" fill="#d3ff2c"/>
<circle cx="290.3" cy="155.6" r="2.7" fill="#8bff74"/>
<circle cx="362.4" cy="111.1" r="2.7" fill="#00e1ff"/>
<circle cx="308.6" cy="140.8" r="2.7" fill="#1affe5"/>
<circle cx="428.4" cy="152.6" r="2.7" fill="#f4ff0b"/>
<circle cx="346.3" cy="162.9" r="2.7" fill="#03fffc"/>
<circle cx="396.8" cy="174.7" r="2.7" fill="#48ffb7"/>
<circle cx="361.7" cy="106.3" r="2.7" fill="#0cfff3"/>
<circle cx="422.9" cy="161.2" r="2.7" fill="#ffe200"/>
<circle cx="284.3" cy="158.5" r="2.7" fill="#49ffb6"/>
<circle cx="413.2" cy="158.1" r="2.7" fill="#efff10"/>
<circle cx="313.8" cy="122.9" r="2.7" fill="#000085"/>
<circle cx="309.0" cy="132.9" r="2.7" fill="#ff4f00"/>
<circle cx="344.6" cy="169.2" r="2.7" fill="#800000"/>
<circle cx="413.7" cy="160.2" r="2.7" fill="#67ff98"/>
<circle cx="371.3" cy="182.7" r="2.7" fill="#00dfff"/>
<circle cx="366.0" cy="176.0" r="2.7" fill="#fff600"/>
<circle cx="346.6" cy="173.8" r="2.7" fill="#ffb600"/>
<circle cx="425.8" cy="153.1" r="2.7" fill="#a70000"/>
<circle cx="313.1" cy="139.4" r="2.7" fill="#53ffac"/>
<circle cx="401.7" cy="164.1" r="2.7" fill="#beff41"/>
<circle cx="368.5" cy="178.9" r="2.7" fill="#46ffb9"/>
<circle cx="312.1" cy="141.2" r="2.7" fill="#94ff6b"/>
<circle cx="285.3" cy="162.0" r="2.7" fill="#007aff"/>
<circle cx="333.5" cy="181.5" r="2.7" fill="#00008a"/>
<circle cx="306.6" cy="129.1" r="2.7" fill="#4bffb4"/>
<circle cx="358.1" cy="110.6" r="2.7" fill="#ff8b00"/>
<circle cx="341.1" cy="161.7" r="2.7" fill="#ffb400"/>
<circle cx="343.5" cy="182.7" r="2.7" fill="#0000e3"/>
<circle cx="311.1" cy="183.1" r="2.7" fill="#0000cb"/>
<circle cx="391.7" cy="162.5" r="2.7" fill="#ff1000"/>
<circle cx="284.6" cy="156.1" r="2.7" fill="#fa0000"/>
<circle cx="306.6" cy="139.9" r="2.7" fill="#c3ff3c"/>
<circle cx="423.5" cy="154.1" r="2.7" fill="#b8ff47"/>
<circle cx="415.7" cy="158.3" r="2.7" fill="#e5ff1a"/>
<circle cx="315.4" cy="171.0" r="2.7" fill="#ff8600"/>
<circle cx="420.2" cy="182.9" r="2.7" fill="#000080"/>
<circle cx="415.9" cy="167.9" r="2.7" fill="#00b3ff"/>
<circle cx="350.4" cy="179.4" r="2.7" fill="#ffde00"/>
<circle cx="423.1" cy="154.2" r="2.7" fill="#ffb400"/>
<circle cx="351.3" cy="97.5" r="2.7" fill="#ffff00"/>
<circle cx="348.6" cy="109.6" r="2.7" fill="#00b5ff"/>
<circle cx="368.6" cy="177.6" r="2.7" fill="#54ffab"/>
<circle cx="391.8" cy="171.1" r="2.7" fill="#efff10"/>
<circle cx="312.4" cy="168.4" r="2.7" fill="#fe0000"/>
<circle cx="349.0" cy="160.6" r="2.7" fill="#4fffb0"/>
<circle cx="430.7" cy="158.2" r="2.7" fill="#0059ff"/>
<circle cx="374.3" cy="176.5" r="2.7" fill="#ffb000"/>
<circle cx="297.8" cy="150.6" r="2.7" fill="#000080"/>
<circle cx="329.9" cy="151.0" r="2.7" fill="#000094"/>
<circle cx="420.5" cy="153.1" r="2.7" fill="#a70000"/>
<circle cx="373.3" cy="164.4" r="2.7" fill="#81ff7e"/>
<circle cx="432.7" cy="157.0" r="2.7" fill="#00e9ff"/>
<circle cx="306.5" cy="134.5" r="2.7" fill="#ff5e00"/>
<circle cx="348.1" cy="177.5" r="2.7" fill="#c0ff3f"/>
<circle cx="287.0" cy="153.5" r="2.7" fill="#acff53"/>
<circle cx="312.2" cy="128.5" r="2.7" fill="#67ff98"/>
<circle cx="407.6" cy="168.0" r="2.7" fill="#000094"/>
<circle cx="423.4" cy="166.1" r="2.7" fill="#ffda00"/>
<circle cx="341.7" cy="177.2" r="2.7" fill="#ff5d00"/>
<circle cx="396.8" cy="166.0" r="2.7" fill="#5affa5"/>
<circle cx="420.1" cy="154.8" r="2.7" fill="#ffa400"/>
<circle cx="285.0" cy="154.5" r="2.7" fill="#d4ff2b"/>
<circle cx="292.7" cy="158.3" r="2.7" fill="#6bff94"/>
<circle cx="289.0" cy="161.8" r="2.7" fill="#e80000"/>
<circle cx="390.4" cy="172.3" r="2.7" fill="#2dffd2"/>
<circle cx="344.0" cy="168.2" r="2.7" fill="#800000"/>
<circle cx="322.0" cy="166.0" r="2.7" fill="#0000f5"/>
<circle cx="291.3" cy="159.8" r="2.7" fill="#ff0c00"/>
<circle cx="291.1" cy="157.1" r="2.7" fill="#70ff8f"/>
<circle cx="317.3" cy="157.1" r="2.7" fill="#00fdff"/>
<circle cx="378.5" cy="161.5" r="2.7" fill="#0016ff"/>
<circle cx="364.9" cy="110.6" r="2.7" fill="#000080"/>
<circle cx="402.0" cy="168.9" r="2.7" fill="#00ccff"/>
<circle cx="309.9" cy="169.9" r="2.7" fill="#00deff"/>
<circle cx="289.4" cy="156.0" r="2.7" fill="#ffa200"/>
<circle cx="346.2" cy="170.7" r="2.7" fill="#cd0000"/>
<circle cx="283.1" cy="163.4" r="2.7" fill="#50ffaf"/>
<circle cx="424.9" cy="166.8" r="2.7" fill="#03fffc"/>
<circle cx="383.5" cy="179.9" r="2.7" fill="#00faff"/>
<circle cx="391.8" cy="178.4" r="2.7" fill="#b6ff49"/>
<circle cx="385.2" cy="190.9" r="2.7" fill="#0000c5"/>
<circle cx="357.9" cy="100.3" r="2.7" fill="#fff100"/>
<circle cx="312.9" cy="158.9" r="2.7" fill="#dcff23"/>
<circle cx="387.8" cy="169.4" r="2.7" fill="#ffdc00"/>
<circle cx="316.1" cy="164.5" r="2.7" fill="#f00000"/>
<circle cx="391.8" cy="161.5" r="2.7" fill="#ffe500"/>
<circle cx="324.2" cy="174.1" r="2.7" fill="#6bff94"/>
<circle cx="342.6" cy="164.9" r="2.7" fill="#ff4900"/>
<circle cx="287.4" cy="156.6" r="2.7" fill="#d70000"/>
<circle cx="411.7" cy="151.0" r="2.7" fill="#0062ff"/>
<circle cx="376.1" cy="169.4" r="2.7" fill="#00bfff"/>
<circle cx="320.5" cy="169.2" r="2.7" fill="#40ffbf"/>
<circle cx="395.4" cy="188.2" r="2.7" fill="#000eff"/>
<circle cx="323.0" cy="170.8" r="2.7" fill="#edff12"/>
<circle cx="373.6" cy="172.5" r="2.7" fill="#ffe400"/>
<circle cx="297.8" cy="153.1" r="2.7" fill="#0006ff"/>
<circle cx="287.2" cy="161.8" r="2.7" fill="#ff5b00"/>
<circle cx="341.0" cy="183.0" r="2.7" fill="#00a9ff"/>
<circle cx="288.0" cy="156.5" r="2.7" fill="#e30000"/>
<circle cx="339.3" cy="174.4" r="2.7" fill="#ff5100"/>
<circle cx="313.2" cy="140.0" r="2.7" fill="#94ff6b"/>
<circle cx="313.1" cy="136.5" r="2.7" fill="#d8ff27"/>
<circle cx="387.7" cy="174.5" r="2.7" fill="#00f5ff"/>
<circle cx="374.2" cy="172.6" r="2.7" fill="#d9ff26"/>
<circle cx="376.6" cy="174.1" r="2.7" fill="#85ff7a"/>
<circle cx="364.3" cy="167.1" r="2.7" fill="#00fbff"/>
<circle cx="411.4" cy="146.5" r="2.7" fill="#00e6ff"/>
<circle cx="319.2" cy="166.8" r="2.7" fill="#bbff44"/>
<circle cx="358.5" cy="44.5" r="2.7" fill="#0080ff"/>
<circle cx="393.4" cy="173.2" r="2.7" fill="#2fffd0"/>
<circle cx="424.0" cy="149.1" r="2.7" fill="#7cff83"/>
<circle cx="298.0" cy="175.5" r="2.7" fill="#000094"/>
<circle cx="372.9" cy="165.1" r="2.7" fill="#ff9700"/>
<circle cx="430.2" cy="145.4" r="2.7" fill="#00e5ff"/>
<circle cx="350.8" cy="107.1" r="2.7" fill="#ffc600"/>
<circle cx="356.1" cy="98.3" r="2.7" fill="#ffce00"/>
<circle cx="366.7" cy="156.3" r="2.7" fill="#0023ff"/>
<circle cx="317.4" cy="162.5" r="2.7" fill="#ffcd00"/>
<circle cx="424.4" cy="156.8" r="2.7" fill="#ffdc00"/>
<circle cx="344.0" cy="172.3" r="2.7" fill="#ff3500"/>
<circle cx="421.3" cy="160.4" r="2.7" fill="#3cffc3"/>
<circle cx="420.7" cy="155.5" r="2.7" fill="#ff5e00"/>
<circle cx="354.8" cy="100.3" r="2.7" fill="#d7ff28"/>
<circle cx="358.4" cy="96.5" r="2.7" fill="#ff9a00"/>
<circle cx="285.2" cy="155.8" r="2.7" fill="#ff6e00"/>
<circle cx="315.9" cy="172.3" r="2.7" fill="#d0ff2f"/>
<circle cx="424.6" cy="163.8" r="2.7" fill="#5affa5"/>
<circle cx="349.9" cy="106.9" r="2.7" fill="#00e2ff"/>
<circle cx="307.1" cy="145.3" r="2.7" fill="#00b4ff"/>
<circle cx="345.6" cy="173.3" r="2.7" fill="#93ff6c"/>
<circle cx="342.0" cy="173.2" r="2.7" fill="#ff8300"/>
<circle cx="293.1" cy="162.7" r="2.7" fill="#9aff65"/>
<circle cx="419.1" cy="157.0" r="2.7" fill="#ff3100"/>
<circle cx="345.7" cy="175.3" r="2.7" fill="#71ff8e"/>
<circle cx="361.2" cy="103.6" r="2.7" fill="#8cff73"/>
<circle cx="347.7" cy="157.9" r="2.7" fill="#0000dc"/>
<circle cx="424.4" cy="162.8" r="2.7" fill="#eeff11"/>
<circle cx="302.5" cy="143.4" r="2.7" fill="#003dff"/>
<circle cx="417.0" cy="159.4" r="2.7" fill="#ffba00"/>
<circle cx="311.0" cy="133.0" r="2.7" fill="#a3ff5c"/>
<circle cx="396.8" cy="167.9" r="2.7" fill="#ff8c00"/>
<circle cx="320.4" cy="170.8" r="2.7" fill="#00fdff"/>
<circle cx="355.7" cy="107.4" r="2.7" fill="#ddff22"/>
<circle cx="292.5" cy="171.8" r="2.7" fill="#0014ff"/>
<circle cx="306.4" cy="129.3" r="2.7" fill="#69ff96"/>
<circle cx="422.9" cy="149.6" r="2.7" fill="#ffd400"/>
<circle cx="342.3" cy="171.2" r="2.7" fill="#36ffc9"/>
<circle cx="341.9" cy="169.2" r="2.7" fill="#ac0000"/>
<circle cx="344.3" cy="159.0" r="2.7" fill="#5cffa3"/>
<circle cx="346.7" cy="174.5" r="2.7" fill="#7dff82"/>
<circle cx="351.2" cy="105.7" r="2.7" fill="#ffe900"/>
<circle cx="368.0" cy="167.8" r="2.7" fill="#ff0200"/>
<circle cx="300.5" cy="130.7" r="2.7" fill="#0efff1"/>
<circle cx="315.8" cy="166.5" r="2.7" fill="#fff500"/>
<circle cx="341.2" cy="174.3" r="2.7" fill="#f1ff0e"/>
<circle cx="369.1" cy="163.2" r="2.7" fill="#ff8100"/>
<circle cx="289.4" cy="149.6" r="2.7" fill="#d10000"/>
<circle cx="341.0" cy="174.5" r="2.7" fill="#e5ff1a"/>
<circle cx="314.4" cy="165.5" r="2.7" fill="#ff8400"/>
<circle cx="306.9" cy="144.1" r="2.7" fill="#1cffe3"/>
<circle cx="312.3" cy="173.0" r="2.7" fill="#ff9600"/>
<circle cx="391.7" cy="162.3" r="2.7" fill="#8eff71"/>
<circle cx="391.8" cy="166.9" r="2.7" fill="#9fff60"/>
<circle cx="395.7" cy="160.4" r="2.7" fill="#fff600"/>
<circle cx="390.4" cy="173.7" r="2.7" fill="#ffec00"/>
<circle cx="315.3" cy="163.2" r="2.7" fill="#9e0000"/>
<circle cx="368.6" cy="172.3" r="2.7" fill="#ff7d00"/>
<circle cx="346.2" cy="164.5" r="2.7" fill="#e00000"/>
<circle cx="357.3" cy="102.2" r="2.7" fill="#ff3900"/>
<circle cx="309.3" cy="130.4" r="2.7" fill="#f6ff09"/>
<circle cx="360.1" cy="172.5" r="2.7" fill="#d6ff29"/>
<circle cx="323.0" cy="89.9" r="2.7" fill="#000080"/>
<circle cx="287.7" cy="152.2" r="2.7" fill="#ceff31"/>
<circle cx="312.6" cy="143.7" r="2.7" fill="#006fff"/>
<circle cx="368.9" cy="169.4" r="2.7" fill="#ff1400"/>
<circle cx="395.1" cy="162.5" r="2.7" fill="#ff3c00"/>
<circle cx="345.8" cy="174.2" r="2.7" fill="#ff2300"/>
<circle cx="313.5" cy="171.6" r="2.7" fill="#b90000"/>
<circle cx="298.0" cy="147.9" r="2.7" fill="#009eff"/>
<circle cx="352.8" cy="107.1" r="2.7" fill="#98ff67"/>
<circle cx="391.5" cy="166.9" r="2.7" fill="#ff3500"/>
<circle cx="314.1" cy="133.8" r="2.7" fill="#00dcff"/>
<circle cx="413.6" cy="163.2" r="2.7" fill="#dfff20"/>
<circle cx="312.4" cy="172.3" r="2.7" fill="#deff21"/>
<circle cx="337.7" cy="184.8" r="2.7" fill="#002dff"/>
<circle cx="287.7" cy="158.1" r="2.7" fill="#ffb700"/>
<circle cx="314.4" cy="134.6" r="2.7" fill="#0076ff"/>
<circle cx="317.1" cy="169.9" r="2.7" fill="#ff6a00"/>
<circle cx="288.5" cy="154.0" r="2.7" fill="#fe0000"/>
<circle cx="370.0" cy="174.2" r="2.7" fill="#ff1000"/>
<circle cx="314.5" cy="162.6" r="2.7" fill="#c3ff3c"/>
<circle cx="317.5" cy="173.6" r="2.7" fill="#fff300"/>
<circle cx="308.4" cy="117.2" r="2.7" fill="#000080"/>
<circle cx="369.5" cy="171.8" r="2.7" fill="#ff5800"/>
<circle cx="390.4" cy="165.7" r="2.7" fill="#e30000"/>
<circle cx="310.5" cy="176.8" r="2.7" fill="#0088ff"/>
<circle cx="391.2" cy="157.0" r="2.7" fill="#ffff00"/>
<circle cx="289.0" cy="159.0" r="2.7" fill="#a20000"/>
<circle cx="285.6" cy="148.2" r="2.7" fill="#5effa1"/>
<circle cx="314.1" cy="135.6" r="2.7" fill="#deff21"/>
<circle cx="350.5" cy="165.9" r="2.7" fill="#9eff61"/>
<circle cx="342.8" cy="179.4" r="2.7" fill="#ffa100"/>
<circle cx="366.2" cy="172.9" r="2.7" fill="#cfff30"/>
<circle cx="426.1" cy="163.5" r="2.7" fill="#85ff7a"/>
<circle cx="316.5" cy="169.9" r="2.7" fill="#ffc900"/>
<circle cx="357.2" cy="106.1" r="2.7" fill="#ff6200"/>
<circle cx="421.1" cy="156.4" r="2.7" fill="#faff05"/>
<circle cx="314.0" cy="175.6" r="2.7" fill="#b8ff47"/>
<circle cx="308.3" cy="132.2" r="2.7" fill="#71ff8e"/>
<circle cx="355.8" cy="102.8" r="2.7" fill="#800000"/>
<circle cx="292.7" cy="156.1" r="2.7" fill="#ffa700"/>
<circle cx="422.3" cy="153.5" r="2.7" fill="#ff6000"/>
<circle cx="395.6" cy="171.9" r="2.7" fill="#ff7600"/>
<circle cx="394.7" cy="173.1" r="2.7" fill="#d00000"/>
<circle cx="346.0" cy="168.8" r="2.7" fill="#ff7f00"/>
<circle cx="418.0" cy="152.7" r="2.7" fill="#ff8f00"/>
<circle cx="356.7" cy="103.4" r="2.7" fill="#ff1a00"/>
<circle cx="311.6" cy="161.3" r="2.7" fill="#00e3ff"/>
<circle cx="347.0" cy="176.6" r="2.7" fill="#b9ff46"/>
<circle cx="303.8" cy="136.3" r="2.7" fill="#49ffb6"/>
<circle cx="355.5" cy="97.9" r="2.7" fill="#ff8900"/>
<circle cx="340.8" cy="175.2" r="2.7" fill="#ff4f00"/>
<circle cx="357.1" cy="108.0" r="2.7" fill="#6cff93"/>
<circle cx="350.9" cy="107.0" r="2.7" fill="#ccff33"/>
<circle cx="374.0" cy="173.9" r="2.7" fill="#56ffa9"/>
<circle cx="364.1" cy="171.5" r="2.7" fill="#ff7800"/>
<circle cx="353.6" cy="105.7" r="2.7" fill="#800000"/>
<circle cx="367.1" cy="179.4" r="2.7" fill="#ffc200"/>
<circle cx="282.4" cy="152.2" r="2.7" fill="#4bffb4"/>
<circle cx="374.0" cy="170.9" r="2.7" fill="#ff8c00"/>
<circle cx="355.9" cy="102.2" r="2.7" fill="#9e0000"/>
<circle cx="368.0" cy="171.2" r="2.7" fill="#be0000"/>
<circle cx="309.5" cy="128.2" r="2.7" fill="#00eaff"/>
<circle cx="419.2" cy="159.8" r="2.7" fill="#ebff14"/>
<circle cx="292.6" cy="156.0" r="2.7" fill="#52ffad"/>
<circle cx="338.7" cy="169.2" r="2.7" fill="#fff800"/>
<circle cx="317.8" cy="141.8" r="2.7" fill="#007fff"/>
<circle cx="346.7" cy="173.3" r="2.7" fill="#c9ff36"/>
<circle cx="419.3" cy="155.6" r="2.7" fill="#ff7b00"/>
<circle cx="422.9" cy="154.2" r="2.7" fill="#ff6c00"/>
<circle cx="367.0" cy="164.9" r="2.7" fill="#fff500"/>
<circle cx="310.5" cy="142.5" r="2.7" fill="#00e5ff"/>
<circle cx="314.9" cy="173.8" r="2.7" fill="#ff4400"/>
<circle cx="368.2" cy="176.8" r="2.7" fill="#ff4800"/>
<circle cx="411.4" cy="156.2" r="2.7" fill="#ffd900"/>
<circle cx="285.5" cy="157.2" r="2.7" fill="#960000"/>
<circle cx="359.6" cy="189.7" r="2.7" fill="#00afff"/>
<circle cx="370.0" cy="177.0" r="2.7" fill="#ffac00"/>
<circle cx="359.4" cy="100.8" r="2.7" fill="#ffea00"/>
<circle cx="302.5" cy="156.6" r="2.7" fill="#0000ae"/>
<circle cx="354.9" cy="107.0" r="2.7" fill="#ffeb00"/>
<circle cx="310.9" cy="136.0" r="2.7" fill="#ff7700"/>
<circle cx="370.1" cy="166.7" r="2.7" fill="#feff01"/>
<circle cx="341.0" cy="162.7" r="2.7" fill="#7dff82"/>
<circle cx="308.5" cy="137.1" r="2.7" fill="#ffe300"/>
<circle cx="313.7" cy="171.1" r="2.7" fill="#ff2400"/>
<circle cx="368.3" cy="163.1" r="2.7" fill="#ffa500"/>
<circle cx="390.4" cy="166.1" r="2.7" fill="#ffd600"/>
<circle cx="341.8" cy="168.2" r="2.7" fill="#ff9500"/>
<circle cx="360.6" cy="172.7" r="2.7" fill="#6cff93"/>
<circle cx="418.4" cy="162.9" r="2.7" fill="#b7ff48"/>
<circle cx="321.3" cy="170.5" r="2.7" fill="#cdff32"/>
<circle cx="352.7" cy="99.0" r="2.7" fill="#ffc900"/>
<circle cx="418.2" cy="160.0" r="2.7" fill="#ff8800"/>
<circle cx="286.6" cy="149.1" r="2.7" fill="#ffe800"/>
<circle cx="389.9" cy="166.1" r="2.7" fill="#b5ff4a"/>
<circle cx="341.8" cy="167.2" r="2.7" fill="#ff8b00"/>
<circle cx="361.6" cy="167.0" r="2.7" fill="#c6ff39"/>
<circle cx="388.6" cy="164.5" r="2.7" fill="#8aff75"/>
<circle cx="411.7" cy="154.8" r="2.7" fill="#ffb300"/>
<circle cx="284.0" cy="150.8" r="2.7" fill="#ff3400"/>
<circle cx="386.0" cy="170.0" r="2.7" fill="#00caff"/>
<circle cx="347.7" cy="173.9" r="2.7" fill="#8c0000"/>
<circle cx="307.0" cy="126.4" r="2.7" fill="#8bff74"/>
<circle cx="350.2" cy="108.6" r="2.7" fill="#76ff89"/>
<circle cx="358.6" cy="101.3" r="2.7" fill="#e7ff18"/>
<circle cx="312.7" cy="173.5" r="2.7" fill="#ff9300"/>
<circle cx="351.5" cy="95.3" r="2.7" fill="#d2ff2d"/>
<circle cx="417.1" cy="157.4" r="2.7" fill="#ff7d00"/>
<circle cx="311.0" cy="164.3" r="2.7" fill="#ff1f00"/>
<circle cx="418.8" cy="154.9" r="2.7" fill="#c70000"/>
<circle cx="315.8" cy="167.6" r="2.7" fill="#860000"/>
<circle cx="342.3" cy="168.4" r="2.7" fill="#ff9300"/>
<circle cx="279.7" cy="161.2" r="2.7" fill="#00f6ff"/>
<circle cx="416.5" cy="161.2" r="2.7" fill="#6eff91"/>
<circle cx="339.6" cy="178.5" r="2.7" fill="#ffc300"/>
<circle cx="362.1" cy="167.5" r="2.7" fill="#b7ff48"/>
<circle cx="353.8" cy="106.2" r="2.7" fill="#ec0000"/>
<circle cx="366.8" cy="170.8" r="2.7" fill="#ff8900"/>
<circle cx="317.3" cy="162.7" r="2.7" fill="#dbff24"/>
<circle cx="358.9" cy="103.6" r="2.7" fill="#ffb500"/>
<circle cx="345.3" cy="167.0" r="2.7" fill="#ff7700"/>
<circle cx="393.2" cy="160.9" r="2.7" fill="#ff6500"/>
<circle cx="318.2" cy="169.8" r="2.7" fill="#ff9000"/>
<circle cx="347.0" cy="180.7" r="2.7" fill="#6fff90"/>
<circle cx="395.4" cy="170.2" r="2.7" fill="#ff3000"/>
<circle cx="387.6" cy="159.6" r="2.7" fill="#9aff65"/>
<circle cx="342.4" cy="173.6" r="2.7" fill="#ffbf00"/>
<circle cx="354.3" cy="175.9" r="2.7" fill="#0099ff"/>
<circle cx="390.2" cy="161.5" r="2.7" fill="#0dfff2"/>
<circle cx="318.9" cy="167.9" r="2.7" fill="#ff6800"/>
<circle cx="345.1" cy="171.3" r="2.7" fill="#ff4100"/>
<circle cx="419.7" cy="156.8" r="2.7" fill="#bd0000"/>
<circle cx="311.1" cy="136.7" r="2.7" fill="#ffb700"/>
<circle cx="357.1" cy="105.2" r="2.7" fill="#800000"/>
<circle cx="385.6" cy="168.7" r="2.7" fill="#ffe800"/>
</g><g clip-path="url(#cc)">
<circle cx="610.3" cy="192.6" r="2.7" fill="#000093"/>
<circle cx="594.2" cy="204.1" r="2.7" fill="#000083"/>
<circle cx="554.9" cy="141.8" r="2.7" fill="#000080"/>
<circle cx="650.8" cy="187.3" r="2.7" fill="#000080"/>
<circle cx="558.8" cy="156.6" r="2.7" fill="#0000a1"/>
<circle cx="611.5" cy="206.3" r="2.7" fill="#00009a"/>
<circle cx="633.0" cy="203.0" r="2.7" fill="#000080"/>
<circle cx="631.6" cy="180.7" r="2.7" fill="#000080"/>
<circle cx="650.4" cy="167.6" r="2.7" fill="#000090"/>
<circle cx="622.0" cy="175.0" r="2.7" fill="#00009b"/>
<circle cx="637.2" cy="181.9" r="2.7" fill="#0000a6"/>
<circle cx="559.3" cy="159.9" r="2.7" fill="#0000a6"/>
<circle cx="599.5" cy="202.7" r="2.7" fill="#0000b7"/>
<circle cx="647.3" cy="180.2" r="2.7" fill="#000080"/>
<circle cx="625.3" cy="191.9" r="2.7" fill="#0000b5"/>
<circle cx="561.2" cy="126.2" r="2.7" fill="#000080"/>
<circle cx="596.8" cy="177.4" r="2.7" fill="#00008f"/>
<circle cx="636.8" cy="183.6" r="2.7" fill="#000080"/>
<circle cx="569.8" cy="78.4" r="2.7" fill="#000080"/>
<circle cx="560.7" cy="124.8" r="2.7" fill="#000080"/>
<circle cx="604.5" cy="185.1" r="2.7" fill="#000080"/>
<circle cx="626.8" cy="180.9" r="2.7" fill="#000082"/>
<circle cx="605.3" cy="198.5" r="2.7" fill="#000084"/>
<circle cx="610.9" cy="190.2" r="2.7" fill="#000095"/>
<circle cx="587.1" cy="194.1" r="2.7" fill="#000096"/>
<circle cx="542.8" cy="183.3" r="2.7" fill="#0030ff"/>
<circle cx="599.3" cy="185.9" r="2.7" fill="#000080"/>
<circle cx="540.7" cy="188.6" r="2.7" fill="#000080"/>
<circle cx="557.6" cy="146.9" r="2.7" fill="#000099"/>
<circle cx="626.7" cy="185.3" r="2.7" fill="#0000fa"/>
<circle cx="560.5" cy="116.2" r="2.7" fill="#0000c0"/>
<circle cx="560.2" cy="126.0" r="2.7" fill="#0000ec"/>
<circle cx="619.8" cy="193.3" r="2.7" fill="#006bff"/>
<circle cx="595.5" cy="186.0" r="2.7" fill="#00008c"/>
<circle cx="652.6" cy="167.2" r="2.7" fill="#0000db"/>
<circle cx="554.9" cy="155.8" r="2.7" fill="#0000b4"/>
<circle cx="564.0" cy="91.0" r="2.7" fill="#00009a"/>
<circle cx="529.3" cy="194.0" r="2.7" fill="#002cff"/>
<circle cx="558.1" cy="97.2" r="2.7" fill="#000086"/>
<circle cx="645.1" cy="183.7" r="2.7" fill="#0000a1"/>
<circle cx="588.8" cy="198.6" r="2.7" fill="#000080"/>
<circle cx="560.0" cy="127.6" r="2.7" fill="#000080"/>
<circle cx="563.0" cy="113.3" r="2.7" fill="#000089"/>
<circle cx="548.2" cy="179.9" r="2.7" fill="#0000ab"/>
<circle cx="607.7" cy="157.8" r="2.7" fill="#000080"/>
<circle cx="548.1" cy="184.3" r="2.7" fill="#0000a6"/>
<circle cx="562.1" cy="126.6" r="2.7" fill="#000080"/>
<circle cx="633.2" cy="167.8" r="2.7" fill="#0000a3"/>
<circle cx="597.1" cy="182.5" r="2.7" fill="#000080"/>
<circle cx="526.6" cy="199.1" r="2.7" fill="#000094"/>
<circle cx="556.9" cy="141.8" r="2.7" fill="#0000b9"/>
<circle cx="646.8" cy="168.7" r="2.7" fill="#0000c5"/>
<circle cx="613.7" cy="184.7" r="2.7" fill="#0000f4"/>
<circle cx="560.5" cy="105.2" r="2.7" fill="#000083"/>
<circle cx="645.8" cy="188.3" r="2.7" fill="#000080"/>
<circle cx="651.8" cy="167.0" r="2.7" fill="#00009c"/>
<circle cx="582.1" cy="189.3" r="2.7" fill="#000097"/>
<circle cx="553.1" cy="106.2" r="2.7" fill="#000096"/>
<circle cx="527.7" cy="194.5" r="2.7" fill="#000094"/>
<circle cx="624.6" cy="183.7" r="2.7" fill="#0020ff"/>
<circle cx="648.7" cy="171.3" r="2.7" fill="#000080"/>
<circle cx="621.4" cy="184.6" r="2.7" fill="#000080"/>
<circle cx="579.3" cy="188.5" r="2.7" fill="#000097"/>
<circle cx="553.1" cy="160.3" r="2.7" fill="#0000c8"/>
<circle cx="591.5" cy="203.8" r="2.7" fill="#000080"/>
<circle cx="559.7" cy="109.8" r="2.7" fill="#0000fe"/>
<circle cx="536.5" cy="200.7" r="2.7" fill="#000094"/>
<circle cx="623.2" cy="184.2" r="2.7" fill="#00008d"/>
<circle cx="566.5" cy="124.0" r="2.7" fill="#000080"/>
<circle cx="581.9" cy="193.4" r="2.7" fill="#000080"/>
<circle cx="606.5" cy="178.2" r="2.7" fill="#001bff"/>
<circle cx="563.3" cy="85.4" r="2.7" fill="#000080"/>
<circle cx="656.0" cy="178.2" r="2.7" fill="#000080"/>
<circle cx="584.5" cy="185.1" r="2.7" fill="#0000ac"/>
<circle cx="550.7" cy="166.2" r="2.7" fill="#0026ff"/>
<circle cx="554.6" cy="161.4" r="2.7" fill="#000080"/>
<circle cx="613.5" cy="198.0" r="2.7" fill="#0000dd"/>
<circle cx="621.7" cy="184.9" r="2.7" fill="#0000c9"/>
<circle cx="614.4" cy="192.1" r="2.7" fill="#0014ff"/>
<circle cx="629.6" cy="190.6" r="2.7" fill="#00009f"/>
<circle cx="624.7" cy="195.9" r="2.7" fill="#0000b8"/>
<circle cx="588.2" cy="198.1" r="2.7" fill="#000080"/>
<circle cx="553.4" cy="122.0" r="2.7" fill="#00faff"/>
<circle cx="632.3" cy="196.1" r="2.7" fill="#000081"/>
<circle cx="609.8" cy="208.9" r="2.7" fill="#000080"/>
<circle cx="565.0" cy="146.0" r="2.7" fill="#000080"/>
<circle cx="591.5" cy="208.1" r="2.7" fill="#000080"/>
<circle cx="641.5" cy="187.4" r="2.7" fill="#0021ff"/>
<circle cx="607.7" cy="191.7" r="2.7" fill="#000099"/>
<circle cx="563.2" cy="121.1" r="2.7" fill="#000080"/>
<circle cx="556.6" cy="153.6" r="2.7" fill="#000095"/>
<circle cx="577.2" cy="201.7" r="2.7" fill="#00008d"/>
<circle cx="562.9" cy="113.3" r="2.7" fill="#000080"/>
<circle cx="664.1" cy="190.7" r="2.7" fill="#00009a"/>
<circle cx="607.9" cy="180.4" r="2.7" fill="#0000af"/>
<circle cx="634.6" cy="187.7" r="2.7" fill="#000080"/>
<circle cx="558.2" cy="168.9" r="2.7" fill="#000080"/>
<circle cx="640.8" cy="165.6" r="2.7" fill="#0000a3"/>
<circle cx="622.2" cy="180.2" r="2.7" fill="#00009d"/>
<circle cx="600.0" cy="202.9" r="2.7" fill="#000080"/>
<circle cx="631.2" cy="182.6" r="2.7" fill="#000080"/>
<circle cx="562.7" cy="92.2" r="2.7" fill="#000087"/>
<circle cx="660.0" cy="165.0" r="2.7" fill="#000080"/>
<circle cx="627.6" cy="176.8" r="2.7" fill="#0000f4"/>
<circle cx="557.0" cy="151.9" r="2.7" fill="#00009a"/>
<circle cx="552.3" cy="147.6" r="2.7" fill="#0012ff"/>
<circle cx="600.2" cy="178.9" r="2.7" fill="#000080"/>
<circle cx="575.0" cy="110.5" r="2.7" fill="#000080"/>
<circle cx="604.8" cy="194.2" r="2.7" fill="#000080"/>
<circle cx="529.5" cy="200.7" r="2.7" fill="#000094"/>
<circle cx="551.3" cy="180.9" r="2.7" fill="#000080"/>
<circle cx="622.0" cy="177.8" r="2.7" fill="#000080"/>
<circle cx="554.6" cy="136.6" r="2.7" fill="#0001ff"/>
<circle cx="597.9" cy="201.7" r="2.7" fill="#00008e"/>
<circle cx="531.6" cy="198.1" r="2.7" fill="#000094"/>
<circle cx="599.6" cy="198.6" r="2.7" fill="#00008b"/>
<circle cx="566.0" cy="87.0" r="2.7" fill="#000080"/>
<circle cx="624.6" cy="197.7" r="2.7" fill="#00009f"/>
<circle cx="634.8" cy="171.6" r="2.7" fill="#0000ef"/>
<circle cx="565.5" cy="94.8" r="2.7" fill="#0000ad"/>
<circle cx="588.2" cy="202.8" r="2.7" fill="#00009a"/>
<circle cx="581.3" cy="197.6" r="2.7" fill="#0000a3"/>
<circle cx="548.4" cy="169.5" r="2.7" fill="#002dff"/>
<circle cx="554.4" cy="139.1" r="2.7" fill="#0032ff"/>
<circle cx="600.1" cy="195.8" r="2.7" fill="#00009c"/>
<circle cx="583.5" cy="206.4" r="2.7" fill="#000099"/>
<circle cx="563.2" cy="114.5" r="2.7" fill="#0000bc"/>
<circle cx="627.0" cy="193.4" r="2.7" fill="#000080"/>
<circle cx="652.3" cy="181.7" r="2.7" fill="#0011ff"/>
<circle cx="634.3" cy="163.5" r="2.7" fill="#000080"/>
<circle cx="542.0" cy="189.9" r="2.7" fill="#0000ad"/>
<circle cx="532.6" cy="198.2" r="2.7" fill="#000094"/>
<circle cx="641.0" cy="180.1" r="2.7" fill="#000097"/>
<circle cx="556.0" cy="170.0" r="2.7" fill="#000084"/>
<circle cx="555.8" cy="165.8" r="2.7" fill="#000fff"/>
<circle cx="649.4" cy="177.1" r="2.7" fill="#000080"/>
<circle cx="540.6" cy="187.0" r="2.7" fill="#0000ca"/>
<circle cx="562.1" cy="132.8" r="2.7" fill="#000080"/>
<circle cx="646.9" cy="179.7" r="2.7" fill="#000080"/>
<circle cx="620.3" cy="185.3" r="2.7" fill="#0000d5"/>
<circle cx="621.6" cy="179.2" r="2.7" fill="#0000ba"/>
<circle cx="538.5" cy="198.5" r="2.7" fill="#000080"/>
<circle cx="528.1" cy="198.8" r="2.7" fill="#000094"/>
<circle cx="674.0" cy="177.5" r="2.7" fill="#000080"/>
<circle cx="568.0" cy="116.4" r="2.7" fill="#00008c"/>
<circle cx="633.4" cy="174.3" r="2.7" fill="#0000b4"/>
<circle cx="560.0" cy="103.2" r="2.7" fill="#0000a0"/>
<circle cx="593.5" cy="203.6" r="2.7" fill="#000086"/>
<circle cx="545.7" cy="184.1" r="2.7" fill="#0000a1"/>
<circle cx="565.2" cy="90.0" r="2.7" fill="#0000ac"/>
<circle cx="551.7" cy="167.0" r="2.7" fill="#0000c8"/>
<circle cx="561.0" cy="102.2" r="2.7" fill="#0000d6"/>
<circle cx="671.5" cy="160.0" r="2.7" fill="#000080"/>
<circle cx="559.1" cy="117.4" r="2.7" fill="#0000e1"/>
<circle cx="617.9" cy="189.1" r="2.7" fill="#000080"/>
<circle cx="638.9" cy="199.6" r="2.7" fill="#00008d"/>
<circle cx="562.0" cy="153.0" r="2.7" fill="#000080"/>
<circle cx="558.8" cy="136.6" r="2.7" fill="#0000e3"/>
<circle cx="554.2" cy="163.8" r="2.7" fill="#0000cc"/>
<circle cx="543.1" cy="187.0" r="2.7" fill="#000080"/>
<circle cx="564.0" cy="128.1" r="2.7" fill="#00008f"/>
<circle cx="625.3" cy="195.9" r="2.7" fill="#000098"/>
<circle cx="626.7" cy="187.8" r="2.7" fill="#000080"/>
<circle cx="599.7" cy="202.2" r="2.7" fill="#00008f"/>
<circle cx="560.3" cy="95.3" r="2.7" fill="#0000a2"/>
<circle cx="597.9" cy="193.2" r="2.7" fill="#00009b"/>
<circle cx="554.9" cy="104.9" r="2.7" fill="#0000ee"/>
<circle cx="554.3" cy="157.1" r="2.7" fill="#0000ab"/>
<circle cx="541.4" cy="191.4" r="2.7" fill="#0000df"/>
<circle cx="545.6" cy="186.4" r="2.7" fill="#000080"/>
<circle cx="561.4" cy="94.5" r="2.7" fill="#000090"/>
<circle cx="552.1" cy="114.2" r="2.7" fill="#0093ff"/>
<circle cx="547.8" cy="170.5" r="2.7" fill="#0078ff"/>
<circle cx="548.3" cy="148.8" r="2.7" fill="#00beff"/>
<circle cx="594.2" cy="184.1" r="2.7" fill="#000080"/>
<circle cx="569.8" cy="113.3" r="2.7" fill="#000080"/>
<circle cx="549.4" cy="160.9" r="2.7" fill="#0074ff"/>
<circle cx="570.1" cy="112.8" r="2.7" fill="#000081"/>
<circle cx="633.4" cy="193.9" r="2.7" fill="#00008f"/>
<circle cx="552.2" cy="180.1" r="2.7" fill="#00009a"/>
<circle cx="557.7" cy="150.7" r="2.7" fill="#000080"/>
<circle cx="654.7" cy="180.1" r="2.7" fill="#0000c2"/>
<circle cx="554.9" cy="137.0" r="2.7" fill="#0000f0"/>
<circle cx="644.1" cy="178.9" r="2.7" fill="#0034ff"/>
<circle cx="643.5" cy="192.5" r="2.7" fill="#0027ff"/>
<circle cx="559.0" cy="95.5" r="2.7" fill="#0000d0"/>
<circle cx="613.1" cy="185.4" r="2.7" fill="#000080"/>
<circle cx="635.0" cy="178.3" r="2.7" fill="#0000ed"/>
<circle cx="658.8" cy="176.9" r="2.7" fill="#000080"/>
<circle cx="561.7" cy="94.4" r="2.7" fill="#0000bf"/>
<circle cx="610.6" cy="173.0" r="2.7" fill="#0000ca"/>
<circle cx="588.6" cy="205.4" r="2.7" fill="#0000a7"/>
<circle cx="563.0" cy="98.9" r="2.7" fill="#0000dc"/>
<circle cx="604.3" cy="198.1" r="2.7" fill="#004cff"/>
<circle cx="558.6" cy="155.2" r="2.7" fill="#000080"/>
<circle cx="648.6" cy="185.8" r="2.7" fill="#000098"/>
<circle cx="652.9" cy="184.7" r="2.7" fill="#0000a2"/>
<circle cx="546.3" cy="185.5" r="2.7" fill="#0000ab"/>
<circle cx="558.5" cy="119.5" r="2.7" fill="#0000dd"/>
<circle cx="640.0" cy="198.7" r="2.7" fill="#00008b"/>
<circle cx="556.4" cy="105.8" r="2.7" fill="#0000a8"/>
<circle cx="532.0" cy="196.8" r="2.7" fill="#000094"/>
<circle cx="595.5" cy="212.3" r="2.7" fill="#000080"/>
<circle cx="633.2" cy="177.9" r="2.7" fill="#00008c"/>
<circle cx="650.9" cy="167.5" r="2.7" fill="#0000b9"/>
<circle cx="616.1" cy="194.8" r="2.7" fill="#000080"/>
<circle cx="554.1" cy="124.7" r="2.7" fill="#0086ff"/>
<circle cx="559.1" cy="142.0" r="2.7" fill="#00008f"/>
<circle cx="538.1" cy="193.3" r="2.7" fill="#0000b0"/>
<circle cx="557.9" cy="163.1" r="2.7" fill="#000080"/>
<circle cx="531.4" cy="199.9" r="2.7" fill="#000094"/>
<circle cx="594.7" cy="191.4" r="2.7" fill="#00009a"/>
<circle cx="557.9" cy="147.1" r="2.7" fill="#000080"/>
<circle cx="626.0" cy="194.0" r="2.7" fill="#0000dc"/>
<circle cx="601.9" cy="197.2" r="2.7" fill="#000080"/>
<circle cx="559.2" cy="104.7" r="2.7" fill="#0000b1"/>
<circle cx="555.6" cy="161.5" r="2.7" fill="#000080"/>
<circle cx="657.5" cy="161.3" r="2.7" fill="#0000be"/>
<circle cx="561.5" cy="128.7" r="2.7" fill="#000080"/>
<circle cx="541.1" cy="188.2" r="2.7" fill="#000080"/>
<circle cx="605.9" cy="206.9" r="2.7" fill="#00009c"/>
<circle cx="634.0" cy="179.9" r="2.7" fill="#000080"/>
<circle cx="543.1" cy="185.6" r="2.7" fill="#000097"/>
<circle cx="590.3" cy="184.9" r="2.7" fill="#0000c8"/>
<circle cx="551.2" cy="114.5" r="2.7" fill="#0dfff2"/>
<circle cx="565.5" cy="73.8" r="2.7" fill="#000080"/>
<circle cx="623.4" cy="191.4" r="2.7" fill="#000080"/>
<circle cx="557.4" cy="104.8" r="2.7" fill="#00008a"/>
<circle cx="622.0" cy="169.3" r="2.7" fill="#0000d8"/>
<circle cx="588.2" cy="195.8" r="2.7" fill="#000080"/>
<circle cx="549.0" cy="141.7" r="2.7" fill="#00c5ff"/>
<circle cx="550.3" cy="175.2" r="2.7" fill="#0000ff"/>
<circle cx="545.1" cy="188.2" r="2.7" fill="#000080"/>
<circle cx="625.2" cy="184.6" r="2.7" fill="#008fff"/>
<circle cx="633.9" cy="178.9" r="2.7" fill="#00009f"/>
<circle cx="640.0" cy="205.0" r="2.7" fill="#000080"/>
<circle cx="617.5" cy="200.9" r="2.7" fill="#000093"/>
<circle cx="595.5" cy="198.2" r="2.7" fill="#000080"/>
<circle cx="595.8" cy="191.1" r="2.7" fill="#000080"/>
<circle cx="561.4" cy="120.1" r="2.7" fill="#0000b7"/>
<circle cx="646.3" cy="192.8" r="2.7" fill="#0000b0"/>
<circle cx="545.6" cy="184.3" r="2.7" fill="#00009e"/>
<circle cx="652.2" cy="183.7" r="2.7" fill="#000095"/>
<circle cx="519.6" cy="198.5" r="2.7" fill="#000094"/>
<circle cx="551.7" cy="158.4" r="2.7" fill="#0000ca"/>
<circle cx="554.9" cy="150.6" r="2.7" fill="#0000e7"/>
<circle cx="648.6" cy="180.0" r="2.7" fill="#0019ff"/>
<circle cx="615.5" cy="191.9" r="2.7" fill="#0000a6"/>
<circle cx="528.0" cy="196.8" r="2.7" fill="#000094"/>
<circle cx="649.3" cy="168.1" r="2.7" fill="#000080"/>
<circle cx="626.3" cy="182.1" r="2.7" fill="#000080"/>
<circle cx="644.8" cy="179.3" r="2.7" fill="#0000a0"/>
<circle cx="618.3" cy="182.6" r="2.7" fill="#0085ff"/>
<circle cx="551.1" cy="170.9" r="2.7" fill="#001bff"/>
<circle cx="568.0" cy="117.0" r="2.7" fill="#000080"/>
<circle cx="549.6" cy="173.3" r="2.7" fill="#0000f7"/>
<circle cx="660.1" cy="182.6" r="2.7" fill="#000099"/>
<circle cx="558.3" cy="143.5" r="2.7" fill="#0000b2"/>
<circle cx="678.0" cy="160.7" r="2.7" fill="#0080ff"/>
<circle cx="652.0" cy="175.3" r="2.7" fill="#0000fa"/>
<circle cx="595.9" cy="177.7" r="2.7" fill="#000098"/>
<circle cx="591.3" cy="194.4" r="2.7" fill="#000080"/>
<circle cx="601.1" cy="195.7" r="2.7" fill="#0000b6"/>
<circle cx="609.4" cy="199.4" r="2.7" fill="#0083ff"/>
<circle cx="563.0" cy="138.0" r="2.7" fill="#000080"/>
<circle cx="602.3" cy="191.8" r="2.7" fill="#000080"/>
<circle cx="659.2" cy="181.1" r="2.7" fill="#00009f"/>
<circle cx="543.2" cy="153.1" r="2.7" fill="#16ffe9"/>
<circle cx="652.0" cy="203.0" r="2.7" fill="#000080"/>
<circle cx="553.7" cy="174.8" r="2.7" fill="#000080"/>
<circle cx="585.3" cy="192.5" r="2.7" fill="#0000a2"/>
<circle cx="540.5" cy="199.8" r="2.7" fill="#000094"/>
<circle cx="537.5" cy="150.6" r="2.7" fill="#d9ff26"/>
<circle cx="642.1" cy="166.7" r="2.7" fill="#000080"/>
<circle cx="551.0" cy="173.7" r="2.7" fill="#0000b2"/>
<circle cx="524.0" cy="206.0" r="2.7" fill="#000080"/>
<circle cx="591.4" cy="188.2" r="2.7" fill="#000080"/>
<circle cx="556.5" cy="182.0" r="2.7" fill="#000080"/>
<circle cx="542.3" cy="198.9" r="2.7" fill="#000094"/>
<circle cx="563.0" cy="126.5" r="2.7" fill="#0000e8"/>
<circle cx="634.8" cy="188.0" r="2.7" fill="#000085"/>
<circle cx="641.7" cy="181.4" r="2.7" fill="#00008e"/>
<circle cx="563.7" cy="117.9" r="2.7" fill="#0000b4"/>
<circle cx="550.2" cy="173.0" r="2.7" fill="#0000e3"/>
<circle cx="557.1" cy="129.9" r="2.7" fill="#0031ff"/>
<circle cx="531.5" cy="194.7" r="2.7" fill="#0000db"/>
<circle cx="635.0" cy="188.2" r="2.7" fill="#0000a6"/>
<circle cx="557.2" cy="163.1" r="2.7" fill="#000085"/>
<circle cx="570.0" cy="130.0" r="2.7" fill="#000080"/>
<circle cx="548.2" cy="129.5" r="2.7" fill="#00e7ff"/>
<circle cx="538.7" cy="190.5" r="2.7" fill="#0000ea"/>
<circle cx="631.1" cy="187.3" r="2.7" fill="#00008c"/>
<circle cx="574.2" cy="51.1" r="2.7" fill="#000080"/>
<circle cx="616.1" cy="171.2" r="2.7" fill="#000095"/>
<circle cx="552.1" cy="152.0" r="2.7" fill="#00aeff"/>
<circle cx="559.2" cy="137.3" r="2.7" fill="#000080"/>
<circle cx="551.0" cy="158.5" r="2.7" fill="#003aff"/>
<circle cx="565.2" cy="91.6" r="2.7" fill="#0000ae"/>
<circle cx="644.7" cy="190.8" r="2.7" fill="#000080"/>
<circle cx="560.1" cy="141.0" r="2.7" fill="#000091"/>
<circle cx="609.6" cy="200.0" r="2.7" fill="#0085ff"/>
<circle cx="632.7" cy="172.7" r="2.7" fill="#0000fc"/>
<circle cx="522.3" cy="190.2" r="2.7" fill="#a0ff5f"/>
<circle cx="590.4" cy="193.3" r="2.7" fill="#0000bb"/>
<circle cx="548.5" cy="115.4" r="2.7" fill="#0084ff"/>
<circle cx="626.0" cy="212.3" r="2.7" fill="#000080"/>
<circle cx="590.4" cy="194.2" r="2.7" fill="#000eff"/>
<circle cx="616.2" cy="190.8" r="2.7" fill="#000099"/>
<circle cx="653.0" cy="162.4" r="2.7" fill="#000080"/>
<circle cx="618.2" cy="190.7" r="2.7" fill="#0000df"/>
<circle cx="595.2" cy="207.6" r="2.7" fill="#0000b3"/>
<circle cx="552.8" cy="164.1" r="2.7" fill="#0000ee"/>
<circle cx="601.9" cy="200.2" r="2.7" fill="#0000f1"/>
<circle cx="563.5" cy="88.4" r="2.7" fill="#0000bd"/>
<circle cx="558.5" cy="123.5" r="2.7" fill="#0006ff"/>
<circle cx="623.7" cy="188.2" r="2.7" fill="#0000db"/>
<circle cx="552.9" cy="166.1" r="2.7" fill="#0000c7"/>
<circle cx="583.3" cy="195.4" r="2.7" fill="#008bff"/>
<circle cx="633.2" cy="165.7" r="2.7" fill="#000098"/>
<circle cx="668.0" cy="178.0" r="2.7" fill="#008aff"/>
<circle cx="572.0" cy="107.0" r="2.7" fill="#000080"/>
<circle cx="610.9" cy="187.9" r="2.7" fill="#0000df"/>
<circle cx="614.5" cy="162.1" r="2.7" fill="#000080"/>
<circle cx="558.7" cy="126.5" r="2.7" fill="#000fff"/>
<circle cx="550.5" cy="193.0" r="2.7" fill="#000080"/>
<circle cx="525.2" cy="185.1" r="2.7" fill="#efff10"/>
<circle cx="550.3" cy="110.4" r="2.7" fill="#0051ff"/>
<circle cx="549.3" cy="174.8" r="2.7" fill="#0000ef"/>
<circle cx="584.4" cy="41.3" r="2.7" fill="#000080"/>
<circle cx="559.5" cy="127.8" r="2.7" fill="#0000b8"/>
<circle cx="546.7" cy="126.1" r="2.7" fill="#004cff"/>
<circle cx="554.5" cy="136.6" r="2.7" fill="#004dff"/>
<circle cx="587.8" cy="188.2" r="2.7" fill="#000090"/>
<circle cx="565.2" cy="117.2" r="2.7" fill="#0000df"/>
<circle cx="563.8" cy="88.7" r="2.7" fill="#000080"/>
<circle cx="556.2" cy="101.7" r="2.7" fill="#0000a4"/>
<circle cx="561.1" cy="115.8" r="2.7" fill="#0001ff"/>
<circle cx="638.0" cy="198.0" r="2.7" fill="#0005ff"/>
<circle cx="558.4" cy="103.7" r="2.7" fill="#0000bb"/>
<circle cx="562.8" cy="134.0" r="2.7" fill="#000080"/>
<circle cx="555.3" cy="116.9" r="2.7" fill="#0095ff"/>
<circle cx="603.4" cy="197.6" r="2.7" fill="#000080"/>
<circle cx="622.4" cy="182.2" r="2.7" fill="#000080"/>
<circle cx="658.1" cy="181.4" r="2.7" fill="#00009a"/>
<circle cx="550.5" cy="145.0" r="2.7" fill="#5bffa4"/>
<circle cx="658.5" cy="176.0" r="2.7" fill="#000081"/>
<circle cx="621.8" cy="182.9" r="2.7" fill="#000094"/>
<circle cx="564.0" cy="113.2" r="2.7" fill="#00009d"/>
<circle cx="556.4" cy="135.7" r="2.7" fill="#0000e8"/>
<circle cx="622.3" cy="192.4" r="2.7" fill="#000080"/>
<circle cx="552.7" cy="164.5" r="2.7" fill="#000080"/>
<circle cx="564.7" cy="87.2" r="2.7" fill="#000080"/>
<circle cx="555.0" cy="157.5" r="2.7" fill="#00009f"/>
<circle cx="557.2" cy="159.1" r="2.7" fill="#000080"/>
<circle cx="554.3" cy="128.4" r="2.7" fill="#007eff"/>
<circle cx="556.6" cy="122.9" r="2.7" fill="#0084ff"/>
<circle cx="566.1" cy="106.9" r="2.7" fill="#000080"/>
<circle cx="588.1" cy="195.2" r="2.7" fill="#000091"/>
<circle cx="632.4" cy="185.0" r="2.7" fill="#000082"/>
<circle cx="608.3" cy="183.2" r="2.7" fill="#0098ff"/>
<circle cx="583.0" cy="112.5" r="2.7" fill="#000080"/>
<circle cx="557.9" cy="112.9" r="2.7" fill="#0037ff"/>
<circle cx="663.0" cy="168.0" r="2.7" fill="#000080"/>
<circle cx="607.9" cy="178.8" r="2.7" fill="#002bff"/>
<circle cx="556.6" cy="141.4" r="2.7" fill="#000099"/>
<circle cx="558.9" cy="106.0" r="2.7" fill="#0000c5"/>
<circle cx="650.8" cy="170.9" r="2.7" fill="#000080"/>
<circle cx="548.7" cy="171.4" r="2.7" fill="#0000d4"/>
<circle cx="541.6" cy="199.4" r="2.7" fill="#000094"/>
<circle cx="592.6" cy="194.0" r="2.7" fill="#0013ff"/>
<circle cx="591.2" cy="189.2" r="2.7" fill="#0020ff"/>
<circle cx="647.0" cy="200.0" r="2.7" fill="#000080"/>
<circle cx="552.6" cy="129.4" r="2.7" fill="#007eff"/>
<circle cx="556.0" cy="100.5" r="2.7" fill="#000080"/>
<circle cx="653.3" cy="161.8" r="2.7" fill="#0000a0"/>
<circle cx="641.0" cy="174.9" r="2.7" fill="#000080"/>
<circle cx="563.5" cy="96.9" r="2.7" fill="#0000aa"/>
<circle cx="604.5" cy="189.1" r="2.7" fill="#00009b"/>
<circle cx="553.3" cy="151.5" r="2.7" fill="#006eff"/>
<circle cx="637.0" cy="175.3" r="2.7" fill="#0000ff"/>
<circle cx="569.5" cy="111.9" r="2.7" fill="#000080"/>
<circle cx="664.0" cy="198.0" r="2.7" fill="#000080"/>
<circle cx="598.8" cy="212.5" r="2.7" fill="#0000ac"/>
<circle cx="551.4" cy="137.0" r="2.7" fill="#53ffac"/>
<circle cx="597.6" cy="195.4" r="2.7" fill="#000088"/>
<circle cx="564.0" cy="116.3" r="2.7" fill="#000080"/>
<circle cx="560.9" cy="102.6" r="2.7" fill="#000080"/>
<circle cx="551.6" cy="154.3" r="2.7" fill="#00a4ff"/>
<circle cx="600.9" cy="183.5" r="2.7" fill="#0000ff"/>
<circle cx="523.8" cy="190.1" r="2.7" fill="#39ffc6"/>
<circle cx="552.3" cy="175.3" r="2.7" fill="#0000fc"/>
<circle cx="557.5" cy="124.4" r="2.7" fill="#0000e1"/>
<circle cx="601.7" cy="192.5" r="2.7" fill="#00a0ff"/>
<circle cx="610.5" cy="187.3" r="2.7" fill="#000095"/>
<circle cx="564.5" cy="89.7" r="2.7" fill="#0000c2"/>
<circle cx="564.3" cy="96.9" r="2.7" fill="#0000ab"/>
<circle cx="645.6" cy="172.6" r="2.7" fill="#0000bd"/>
<circle cx="578.1" cy="190.1" r="2.7" fill="#008cff"/>
<circle cx="609.5" cy="184.3" r="2.7" fill="#0035ff"/>
<circle cx="553.9" cy="107.0" r="2.7" fill="#0000c5"/>
<circle cx="627.8" cy="176.5" r="2.7" fill="#0bfff4"/>
<circle cx="543.1" cy="180.4" r="2.7" fill="#005dff"/>
<circle cx="616.1" cy="193.6" r="2.7" fill="#0006ff"/>
<circle cx="555.6" cy="122.5" r="2.7" fill="#0019ff"/>
<circle cx="535.0" cy="184.8" r="2.7" fill="#1fffe0"/>
<circle cx="563.4" cy="96.0" r="2.7" fill="#000080"/>
<circle cx="654.2" cy="170.3" r="2.7" fill="#0000e4"/>
<circle cx="559.9" cy="127.8" r="2.7" fill="#0000fc"/>
<circle cx="548.9" cy="114.7" r="2.7" fill="#5cffa3"/>
<circle cx="548.0" cy="152.6" r="2.7" fill="#00ebff"/>
<circle cx="550.9" cy="127.2" r="2.7" fill="#0efff1"/>
<circle cx="589.4" cy="198.1" r="2.7" fill="#000085"/>
<circle cx="644.8" cy="168.3" r="2.7" fill="#0045ff"/>
<circle cx="658.8" cy="177.0" r="2.7" fill="#000080"/>
<circle cx="538.2" cy="199.8" r="2.7" fill="#000094"/>
<circle cx="553.6" cy="158.2" r="2.7" fill="#0000f6"/>
<circle cx="611.2" cy="203.8" r="2.7" fill="#000080"/>
<circle cx="551.3" cy="123.9" r="2.7" fill="#26ffd9"/>
<circle cx="536.1" cy="150.1" r="2.7" fill="#92ff6d"/>
<circle cx="544.1" cy="144.2" r="2.7" fill="#74ff8b"/>
<circle cx="534.4" cy="187.8" r="2.7" fill="#44ffbb"/>
<circle cx="589.4" cy="184.8" r="2.7" fill="#00009d"/>
<circle cx="554.4" cy="159.0" r="2.7" fill="#0000a1"/>
<circle cx="567.7" cy="110.6" r="2.7" fill="#0000e6"/>
<circle cx="631.5" cy="166.3" r="2.7" fill="#008cff"/>
<circle cx="647.1" cy="193.1" r="2.7" fill="#0074ff"/>
<circle cx="524.3" cy="192.3" r="2.7" fill="#5fffa0"/>
<circle cx="547.8" cy="135.7" r="2.7" fill="#42ffbd"/>
<circle cx="561.2" cy="104.6" r="2.7" fill="#000082"/>
<circle cx="588.5" cy="208.4" r="2.7" fill="#0000db"/>
<circle cx="557.4" cy="105.7" r="2.7" fill="#000080"/>
<circle cx="550.5" cy="150.9" r="2.7" fill="#0095ff"/>
<circle cx="638.9" cy="178.0" r="2.7" fill="#0000bb"/>
<circle cx="634.5" cy="179.1" r="2.7" fill="#00008a"/>
<circle cx="619.8" cy="200.8" r="2.7" fill="#00beff"/>
<circle cx="590.0" cy="196.5" r="2.7" fill="#0097ff"/>
<circle cx="524.7" cy="191.1" r="2.7" fill="#60ff9f"/>
<circle cx="545.6" cy="170.2" r="2.7" fill="#00c6ff"/>
<circle cx="549.2" cy="176.6" r="2.7" fill="#0000f5"/>
<circle cx="597.6" cy="195.7" r="2.7" fill="#0095ff"/>
<circle cx="594.5" cy="185.1" r="2.7" fill="#0000f2"/>
<circle cx="551.9" cy="116.0" r="2.7" fill="#00e2ff"/>
<circle cx="593.7" cy="183.6" r="2.7" fill="#0000cb"/>
<circle cx="549.4" cy="116.4" r="2.7" fill="#00d4ff"/>
<circle cx="586.3" cy="200.4" r="2.7" fill="#006eff"/>
<circle cx="619.6" cy="181.1" r="2.7" fill="#0056ff"/>
<circle cx="638.6" cy="176.3" r="2.7" fill="#000bff"/>
<circle cx="644.3" cy="164.8" r="2.7" fill="#0000f8"/>
<circle cx="553.7" cy="145.4" r="2.7" fill="#0000fd"/>
<circle cx="621.8" cy="188.2" r="2.7" fill="#00009b"/>
<circle cx="633.1" cy="179.6" r="2.7" fill="#0091ff"/>
<circle cx="551.1" cy="161.2" r="2.7" fill="#0019ff"/>
<circle cx="599.8" cy="195.7" r="2.7" fill="#0000a6"/>
<circle cx="533.3" cy="194.6" r="2.7" fill="#0037ff"/>
<circle cx="551.9" cy="143.8" r="2.7" fill="#002fff"/>
<circle cx="544.1" cy="132.8" r="2.7" fill="#4bffb4"/>
<circle cx="542.9" cy="168.4" r="2.7" fill="#06fff9"/>
<circle cx="552.0" cy="166.2" r="2.7" fill="#0000e7"/>
<circle cx="598.8" cy="194.9" r="2.7" fill="#0018ff"/>
<circle cx="574.8" cy="184.5" r="2.7" fill="#00008a"/>
<circle cx="641.9" cy="180.1" r="2.7" fill="#00009d"/>
<circle cx="540.8" cy="147.8" r="2.7" fill="#35ffca"/>
<circle cx="560.6" cy="93.8" r="2.7" fill="#000098"/>
<circle cx="548.9" cy="125.0" r="2.7" fill="#14ffeb"/>
<circle cx="548.9" cy="155.6" r="2.7" fill="#00f6ff"/>
<circle cx="555.6" cy="101.8" r="2.7" fill="#0000fa"/>
<circle cx="532.5" cy="185.0" r="2.7" fill="#ff6f00"/>
<circle cx="553.2" cy="167.4" r="2.7" fill="#000080"/>
<circle cx="542.9" cy="140.4" r="2.7" fill="#85ff7a"/>
<circle cx="591.4" cy="194.8" r="2.7" fill="#000aff"/>
<circle cx="615.6" cy="174.3" r="2.7" fill="#0000a1"/>
<circle cx="548.8" cy="152.6" r="2.7" fill="#00beff"/>
<circle cx="542.2" cy="177.0" r="2.7" fill="#28ffd7"/>
<circle cx="656.7" cy="171.9" r="2.7" fill="#00a6ff"/>
<circle cx="559.5" cy="94.8" r="2.7" fill="#000094"/>
<circle cx="532.9" cy="190.3" r="2.7" fill="#003cff"/>
<circle cx="547.5" cy="142.6" r="2.7" fill="#78ff87"/>
<circle cx="644.4" cy="180.2" r="2.7" fill="#00008b"/>
<circle cx="544.2" cy="158.5" r="2.7" fill="#77ff88"/>
<circle cx="557.2" cy="100.8" r="2.7" fill="#000080"/>
<circle cx="539.3" cy="168.5" r="2.7" fill="#a0ff5f"/>
<circle cx="601.9" cy="196.8" r="2.7" fill="#000095"/>
<circle cx="626.9" cy="182.7" r="2.7" fill="#000080"/>
<circle cx="536.2" cy="189.5" r="2.7" fill="#0012ff"/>
<circle cx="556.3" cy="113.7" r="2.7" fill="#00a1ff"/>
<circle cx="537.1" cy="192.1" r="2.7" fill="#0000ba"/>
<circle cx="554.4" cy="116.7" r="2.7" fill="#08fff7"/>
<circle cx="650.3" cy="183.2" r="2.7" fill="#000093"/>
<circle cx="543.5" cy="188.9" r="2.7" fill="#00008e"/>
<circle cx="545.4" cy="130.3" r="2.7" fill="#64ff9b"/>
<circle cx="525.8" cy="190.0" r="2.7" fill="#8bff74"/>
<circle cx="656.0" cy="190.0" r="2.7" fill="#0000fa"/>
<circle cx="534.7" cy="170.1" r="2.7" fill="#c8ff37"/>
<circle cx="538.0" cy="144.9" r="2.7" fill="#98ff67"/>
<circle cx="554.6" cy="114.1" r="2.7" fill="#00a4ff"/>
<circle cx="549.9" cy="181.9" r="2.7" fill="#000080"/>
<circle cx="526.1" cy="183.1" r="2.7" fill="#ffce00"/>
<circle cx="618.8" cy="183.0" r="2.7" fill="#000084"/>
<circle cx="544.2" cy="184.8" r="2.7" fill="#0000f3"/>
<circle cx="559.1" cy="101.4" r="2.7" fill="#0000ec"/>
<circle cx="541.2" cy="141.4" r="2.7" fill="#38ffc7"/>
<circle cx="537.8" cy="152.8" r="2.7" fill="#bcff43"/>
<circle cx="633.5" cy="192.1" r="2.7" fill="#006fff"/>
<circle cx="556.6" cy="112.4" r="2.7" fill="#0058ff"/>
<circle cx="549.5" cy="162.0" r="2.7" fill="#0043ff"/>
<circle cx="594.1" cy="180.3" r="2.7" fill="#00009d"/>
<circle cx="606.2" cy="200.0" r="2.7" fill="#0022ff"/>
<circle cx="627.1" cy="201.6" r="2.7" fill="#00bcff"/>
<circle cx="534.0" cy="192.3" r="2.7" fill="#0000d5"/>
<circle cx="550.9" cy="152.7" r="2.7" fill="#005aff"/>
<circle cx="532.1" cy="171.8" r="2.7" fill="#e6ff19"/>
<circle cx="615.8" cy="187.3" r="2.7" fill="#0000e5"/>
<circle cx="524.5" cy="191.8" r="2.7" fill="#62ff9d"/>
<circle cx="680.0" cy="200.4" r="2.7" fill="#000080"/>
<circle cx="521.8" cy="199.5" r="2.7" fill="#000094"/>
<circle cx="592.4" cy="183.8" r="2.7" fill="#2bffd4"/>
<circle cx="622.1" cy="201.2" r="2.7" fill="#0000af"/>
<circle cx="530.7" cy="198.8" r="2.7" fill="#000094"/>
<circle cx="547.1" cy="155.3" r="2.7" fill="#00feff"/>
<circle cx="654.2" cy="174.7" r="2.7" fill="#0005ff"/>
<circle cx="653.9" cy="173.6" r="2.7" fill="#000099"/>
<circle cx="563.0" cy="108.2" r="2.7" fill="#0000bc"/>
<circle cx="535.4" cy="170.0" r="2.7" fill="#e3ff1c"/>
<circle cx="618.3" cy="199.2" r="2.7" fill="#0023ff"/>
<circle cx="532.7" cy="198.9" r="2.7" fill="#000094"/>
<circle cx="593.4" cy="199.1" r="2.7" fill="#0000a6"/>
<circle cx="552.6" cy="116.4" r="2.7" fill="#00beff"/>
<circle cx="545.6" cy="151.5" r="2.7" fill="#c6ff39"/>
<circle cx="540.2" cy="172.6" r="2.7" fill="#8cff73"/>
<circle cx="534.2" cy="166.1" r="2.7" fill="#fffa00"/>
<circle cx="523.2" cy="194.2" r="2.7" fill="#0bfff4"/>
<circle cx="524.9" cy="188.0" r="2.7" fill="#daff25"/>
<circle cx="616.4" cy="178.0" r="2.7" fill="#00acff"/>
<circle cx="654.7" cy="176.2" r="2.7" fill="#0000a4"/>
<circle cx="544.6" cy="134.4" r="2.7" fill="#9eff61"/>
<circle cx="531.1" cy="183.4" r="2.7" fill="#edff12"/>
<circle cx="552.3" cy="106.3" r="2.7" fill="#0000aa"/>
<circle cx="644.2" cy="187.0" r="2.7" fill="#000080"/>
<circle cx="611.4" cy="191.7" r="2.7" fill="#44ffbb"/>
<circle cx="645.1" cy="197.6" r="2.7" fill="#0014ff"/>
<circle cx="566.4" cy="114.5" r="2.7" fill="#000080"/>
<circle cx="522.8" cy="190.5" r="2.7" fill="#19ffe6"/>
<circle cx="530.0" cy="172.8" r="2.7" fill="#ff6c00"/>
<circle cx="535.8" cy="161.8" r="2.7" fill="#ffe600"/>
<circle cx="557.7" cy="119.7" r="2.7" fill="#004cff"/>
<circle cx="532.3" cy="176.2" r="2.7" fill="#e9ff16"/>
<circle cx="537.4" cy="184.4" r="2.7" fill="#68ff97"/>
<circle cx="547.0" cy="138.5" r="2.7" fill="#a6ff59"/>
<circle cx="549.7" cy="143.4" r="2.7" fill="#009aff"/>
<circle cx="523.3" cy="193.6" r="2.7" fill="#41ffbe"/>
<circle cx="543.8" cy="127.8" r="2.7" fill="#19ffe6"/>
<circle cx="535.4" cy="176.2" r="2.7" fill="#ff5800"/>
<circle cx="551.3" cy="109.0" r="2.7" fill="#0023ff"/>
<circle cx="529.6" cy="188.2" r="2.7" fill="#41ffbe"/>
<circle cx="528.7" cy="191.9" r="2.7" fill="#7eff81"/>
<circle cx="621.2" cy="187.9" r="2.7" fill="#83ff7c"/>
<circle cx="529.2" cy="171.8" r="2.7" fill="#ffe600"/>
<circle cx="529.0" cy="194.5" r="2.7" fill="#005bff"/>
<circle cx="579.5" cy="204.5" r="2.7" fill="#3dffc2"/>
<circle cx="541.8" cy="150.5" r="2.7" fill="#caff35"/>
<circle cx="532.3" cy="162.6" r="2.7" fill="#ffab00"/>
<circle cx="659.5" cy="163.6" r="2.7" fill="#00009d"/>
<circle cx="538.5" cy="170.3" r="2.7" fill="#fff700"/>
<circle cx="539.9" cy="166.5" r="2.7" fill="#ffe400"/>
<circle cx="541.0" cy="172.7" r="2.7" fill="#ccff33"/>
<circle cx="548.5" cy="115.4" r="2.7" fill="#10ffef"/>
<circle cx="643.1" cy="172.1" r="2.7" fill="#11ffee"/>
<circle cx="555.1" cy="116.4" r="2.7" fill="#00e7ff"/>
<circle cx="633.4" cy="195.1" r="2.7" fill="#0062ff"/>
<circle cx="529.1" cy="185.2" r="2.7" fill="#c4ff3b"/>
<circle cx="551.7" cy="152.7" r="2.7" fill="#00a7ff"/>
<circle cx="550.0" cy="125.8" r="2.7" fill="#00f9ff"/>
<circle cx="538.2" cy="144.9" r="2.7" fill="#bcff43"/>
<circle cx="555.5" cy="130.4" r="2.7" fill="#003cff"/>
<circle cx="552.3" cy="130.3" r="2.7" fill="#67ff98"/>
<circle cx="552.8" cy="155.4" r="2.7" fill="#0000ce"/>
<circle cx="536.3" cy="178.3" r="2.7" fill="#ffe100"/>
<circle cx="530.0" cy="185.9" r="2.7" fill="#ffa800"/>
<circle cx="533.3" cy="190.1" r="2.7" fill="#00caff"/>
<circle cx="636.3" cy="188.7" r="2.7" fill="#00acff"/>
<circle cx="619.7" cy="184.8" r="2.7" fill="#008eff"/>
<circle cx="608.4" cy="209.4" r="2.7" fill="#0082ff"/>
<circle cx="536.0" cy="153.1" r="2.7" fill="#ffd300"/>
<circle cx="547.4" cy="152.8" r="2.7" fill="#00a1ff"/>
<circle cx="540.0" cy="153.9" r="2.7" fill="#a2ff5d"/>
<circle cx="525.9" cy="187.9" r="2.7" fill="#ddff22"/>
<circle cx="557.9" cy="122.0" r="2.7" fill="#00b4ff"/>
<circle cx="539.5" cy="142.3" r="2.7" fill="#28ffd7"/>
<circle cx="530.1" cy="179.7" r="2.7" fill="#ffcb00"/>
<circle cx="536.7" cy="154.7" r="2.7" fill="#d4ff2b"/>
<circle cx="530.2" cy="179.1" r="2.7" fill="#ffee00"/>
<circle cx="541.5" cy="139.4" r="2.7" fill="#97ff68"/>
<circle cx="542.4" cy="170.2" r="2.7" fill="#3bffc4"/>
<circle cx="619.1" cy="192.8" r="2.7" fill="#006fff"/>
<circle cx="544.3" cy="170.2" r="2.7" fill="#2fffd0"/>
<circle cx="544.2" cy="180.9" r="2.7" fill="#0038ff"/>
<circle cx="528.7" cy="177.1" r="2.7" fill="#ffa600"/>
<circle cx="535.9" cy="162.0" r="2.7" fill="#70ff8f"/>
<circle cx="526.5" cy="179.9" r="2.7" fill="#ffc900"/>
<circle cx="544.7" cy="126.2" r="2.7" fill="#9aff65"/>
<circle cx="548.1" cy="155.6" r="2.7" fill="#79ff86"/>
<circle cx="542.0" cy="158.6" r="2.7" fill="#c1ff3e"/>
<circle cx="655.0" cy="179.2" r="2.7" fill="#00a1ff"/>
<circle cx="546.5" cy="158.4" r="2.7" fill="#a9ff56"/>
<circle cx="532.0" cy="178.0" r="2.7" fill="#ff5f00"/>
<circle cx="544.6" cy="127.6" r="2.7" fill="#b2ff4d"/>
<circle cx="556.0" cy="121.1" r="2.7" fill="#00deff"/>
<circle cx="537.4" cy="155.1" r="2.7" fill="#ff0800"/>
<circle cx="549.4" cy="144.2" r="2.7" fill="#30ffcf"/>
<circle cx="535.9" cy="153.1" r="2.7" fill="#ffed00"/>
<circle cx="537.0" cy="170.8" r="2.7" fill="#89ff76"/>
<circle cx="534.7" cy="170.8" r="2.7" fill="#d9ff26"/>
<circle cx="541.8" cy="138.0" r="2.7" fill="#00e4ff"/>
<circle cx="552.5" cy="136.1" r="2.7" fill="#36ffc9"/>
<circle cx="533.0" cy="168.5" r="2.7" fill="#f2ff0d"/>
<circle cx="534.8" cy="179.3" r="2.7" fill="#ff8800"/>
<circle cx="560.0" cy="88.5" r="2.7" fill="#0080ff"/>
<circle cx="548.9" cy="115.8" r="2.7" fill="#00aeff"/>
<circle cx="542.1" cy="150.9" r="2.7" fill="#ddff22"/>
<circle cx="551.6" cy="121.7" r="2.7" fill="#4effb1"/>
<circle cx="550.2" cy="152.3" r="2.7" fill="#49ffb6"/>
<circle cx="547.2" cy="163.6" r="2.7" fill="#08fff7"/>
<circle cx="549.3" cy="148.1" r="2.7" fill="#00c1ff"/>
<circle cx="626.0" cy="191.0" r="2.7" fill="#0086ff"/>
<circle cx="529.4" cy="186.3" r="2.7" fill="#ff9c00"/>
<circle cx="590.2" cy="184.0" r="2.7" fill="#0070ff"/>
<circle cx="645.8" cy="170.1" r="2.7" fill="#33ffcc"/>
<circle cx="522.6" cy="190.1" r="2.7" fill="#67ff98"/>
<circle cx="537.0" cy="158.3" r="2.7" fill="#ffee00"/>
<circle cx="624.7" cy="168.5" r="2.7" fill="#0028ff"/>
<circle cx="657.5" cy="180.0" r="2.7" fill="#002fff"/>
<circle cx="616.5" cy="195.6" r="2.7" fill="#0000cf"/>
<circle cx="543.4" cy="154.3" r="2.7" fill="#f0ff0f"/>
<circle cx="540.5" cy="157.7" r="2.7" fill="#00f6ff"/>
<circle cx="542.3" cy="143.1" r="2.7" fill="#c9ff36"/>
<circle cx="535.8" cy="186.4" r="2.7" fill="#44ffbb"/>
<circle cx="585.8" cy="187.7" r="2.7" fill="#00b2ff"/>
<circle cx="532.6" cy="188.5" r="2.7" fill="#00c0ff"/>
<circle cx="528.6" cy="172.4" r="2.7" fill="#87ff78"/>
<circle cx="530.9" cy="181.8" r="2.7" fill="#c5ff3a"/>
<circle cx="552.6" cy="114.0" r="2.7" fill="#00e8ff"/>
<circle cx="538.4" cy="145.9" r="2.7" fill="#fdff02"/>
<circle cx="540.6" cy="153.5" r="2.7" fill="#98ff67"/>
<circle cx="542.3" cy="156.4" r="2.7" fill="#e7ff18"/>
<circle cx="547.7" cy="123.3" r="2.7" fill="#2fffd0"/>
<circle cx="545.4" cy="126.3" r="2.7" fill="#f2ff0d"/>
<circle cx="607.3" cy="198.7" r="2.7" fill="#5cffa3"/>
<circle cx="539.3" cy="155.7" r="2.7" fill="#ffd400"/>
<circle cx="533.2" cy="161.0" r="2.7" fill="#ff8e00"/>
<circle cx="531.4" cy="187.0" r="2.7" fill="#abff54"/>
<circle cx="596.7" cy="179.7" r="2.7" fill="#3dffc2"/>
<circle cx="629.5" cy="197.2" r="2.7" fill="#0036ff"/>
<circle cx="591.9" cy="194.4" r="2.7" fill="#008aff"/>
<circle cx="546.0" cy="148.1" r="2.7" fill="#ffef00"/>
<circle cx="545.5" cy="143.4" r="2.7" fill="#99ff66"/>
<circle cx="534.9" cy="157.1" r="2.7" fill="#fdff02"/>
<circle cx="540.1" cy="148.3" r="2.7" fill="#ffbb00"/>
<circle cx="540.7" cy="141.7" r="2.7" fill="#ffd000"/>
<circle cx="536.3" cy="181.2" r="2.7" fill="#ffc400"/>
<circle cx="628.7" cy="175.0" r="2.7" fill="#000080"/>
<circle cx="540.9" cy="157.5" r="2.7" fill="#ffb700"/>
<circle cx="531.6" cy="164.8" r="2.7" fill="#ceff31"/>
<circle cx="545.8" cy="155.3" r="2.7" fill="#3fffc0"/>
<circle cx="533.1" cy="178.3" r="2.7" fill="#fff900"/>
<circle cx="554.1" cy="117.7" r="2.7" fill="#4affb5"/>
<circle cx="547.3" cy="131.6" r="2.7" fill="#ccff33"/>
<circle cx="540.8" cy="140.2" r="2.7" fill="#5cffa3"/>
<circle cx="543.6" cy="128.6" r="2.7" fill="#eeff11"/>
<circle cx="540.6" cy="155.1" r="2.7" fill="#fcff03"/>
<circle cx="537.7" cy="154.3" r="2.7" fill="#ff5900"/>
<circle cx="529.9" cy="176.8" r="2.7" fill="#ffb700"/>
<circle cx="540.1" cy="142.2" r="2.7" fill="#cdff32"/>
<circle cx="541.5" cy="151.2" r="2.7" fill="#ff6500"/>
<circle cx="538.8" cy="166.8" r="2.7" fill="#ff4800"/>
<circle cx="535.3" cy="153.9" r="2.7" fill="#ffeb00"/>
<circle cx="542.5" cy="158.1" r="2.7" fill="#ffc000"/>
<circle cx="601.3" cy="190.7" r="2.7" fill="#007eff"/>
<circle cx="644.3" cy="172.8" r="2.7" fill="#007cff"/>
<circle cx="529.1" cy="175.5" r="2.7" fill="#ff1200"/>
<circle cx="529.3" cy="185.3" r="2.7" fill="#ff7b00"/>
<circle cx="541.6" cy="152.8" r="2.7" fill="#ffd200"/>
<circle cx="542.2" cy="158.3" r="2.7" fill="#ff8a00"/>
<circle cx="546.2" cy="148.6" r="2.7" fill="#72ff8d"/>
<circle cx="549.3" cy="149.6" r="2.7" fill="#36ffc9"/>
<circle cx="524.1" cy="185.2" r="2.7" fill="#ff9e00"/>
<circle cx="542.5" cy="153.7" r="2.7" fill="#67ff98"/>
<circle cx="537.7" cy="170.8" r="2.7" fill="#ff8d00"/>
<circle cx="544.1" cy="162.2" r="2.7" fill="#bfff40"/>
<circle cx="525.1" cy="193.8" r="2.7" fill="#20ffdf"/>
<circle cx="534.5" cy="174.1" r="2.7" fill="#ff6200"/>
<circle cx="540.6" cy="142.6" r="2.7" fill="#ff7b00"/>
<circle cx="527.5" cy="189.1" r="2.7" fill="#ff8c00"/>
<circle cx="534.5" cy="169.9" r="2.7" fill="#c3ff3c"/>
<circle cx="535.9" cy="150.9" r="2.7" fill="#f1ff0e"/>
<circle cx="525.2" cy="195.0" r="2.7" fill="#00e5ff"/>
<circle cx="547.8" cy="166.6" r="2.7" fill="#00f9ff"/>
<circle cx="528.0" cy="189.2" r="2.7" fill="#ffa700"/>
<circle cx="545.7" cy="157.6" r="2.7" fill="#cbff34"/>
<circle cx="534.6" cy="175.4" r="2.7" fill="#d9ff26"/>
<circle cx="524.5" cy="183.8" r="2.7" fill="#fff700"/>
<circle cx="531.3" cy="164.4" r="2.7" fill="#ffbe00"/>
<circle cx="538.9" cy="143.7" r="2.7" fill="#ffb100"/>
<circle cx="532.3" cy="168.3" r="2.7" fill="#ff3c00"/>
<circle cx="537.3" cy="148.1" r="2.7" fill="#ffd500"/>
<circle cx="546.6" cy="145.3" r="2.7" fill="#dcff23"/>
<circle cx="545.0" cy="157.9" r="2.7" fill="#d2ff2d"/>
<circle cx="533.2" cy="182.8" r="2.7" fill="#ff3500"/>
<circle cx="532.3" cy="171.6" r="2.7" fill="#960000"/>
<circle cx="539.9" cy="177.9" r="2.7" fill="#ff8e00"/>
<circle cx="535.6" cy="165.7" r="2.7" fill="#ffde00"/>
<circle cx="543.3" cy="168.0" r="2.7" fill="#61ff9e"/>
<circle cx="524.4" cy="188.0" r="2.7" fill="#7dff82"/>
<circle cx="538.2" cy="173.7" r="2.7" fill="#f70000"/>
<circle cx="534.9" cy="153.9" r="2.7" fill="#ff7600"/>
<circle cx="533.1" cy="169.1" r="2.7" fill="#ff1d00"/>
<circle cx="545.4" cy="152.8" r="2.7" fill="#f4ff0b"/>
<circle cx="540.3" cy="160.8" r="2.7" fill="#ffe900"/>
<circle cx="548.1" cy="150.4" r="2.7" fill="#28ffd7"/>
<circle cx="548.7" cy="130.1" r="2.7" fill="#55ffaa"/>
<circle cx="540.0" cy="169.0" r="2.7" fill="#ffc600"/>
<circle cx="526.8" cy="188.0" r="2.7" fill="#cfff30"/>
<circle cx="535.5" cy="166.5" r="2.7" fill="#ff5400"/>
<circle cx="530.3" cy="178.8" r="2.7" fill="#c7ff38"/>
<circle cx="549.7" cy="138.4" r="2.7" fill="#56ffa9"/>
<circle cx="530.2" cy="179.9" r="2.7" fill="#ffb700"/>
<circle cx="527.7" cy="185.0" r="2.7" fill="#ff3200"/>
<circle cx="540.9" cy="136.3" r="2.7" fill="#e8ff17"/>
<circle cx="659.5" cy="189.1" r="2.7" fill="#32ffcd"/>
<circle cx="544.4" cy="135.0" r="2.7" fill="#e5ff1a"/>
<circle cx="547.6" cy="119.9" r="2.7" fill="#7aff85"/>
<circle cx="542.6" cy="134.9" r="2.7" fill="#ff7700"/>
<circle cx="538.4" cy="156.7" r="2.7" fill="#66ff99"/>
<circle cx="531.8" cy="164.3" r="2.7" fill="#e70000"/>
<circle cx="524.1" cy="185.7" r="2.7" fill="#ffe500"/>
<circle cx="535.1" cy="162.6" r="2.7" fill="#ffce00"/>
<circle cx="528.8" cy="193.6" r="2.7" fill="#00ddff"/>
<circle cx="531.2" cy="182.5" r="2.7" fill="#ffa800"/>
<circle cx="542.8" cy="140.5" r="2.7" fill="#feff01"/>
<circle cx="528.9" cy="180.4" r="2.7" fill="#a60000"/>
<circle cx="536.4" cy="175.8" r="2.7" fill="#ffcf00"/>
<circle cx="542.5" cy="152.6" r="2.7" fill="#ff9d00"/>
<circle cx="527.1" cy="176.2" r="2.7" fill="#ffbb00"/>
<circle cx="541.0" cy="158.0" r="2.7" fill="#ff3000"/>
<circle cx="534.9" cy="153.6" r="2.7" fill="#ffe900"/>
<circle cx="538.4" cy="159.6" r="2.7" fill="#ff9100"/>
<circle cx="538.2" cy="151.3" r="2.7" fill="#a10000"/>
<circle cx="529.8" cy="168.9" r="2.7" fill="#ff7c00"/>
<circle cx="540.1" cy="146.5" r="2.7" fill="#ffd500"/>
<circle cx="525.7" cy="190.9" r="2.7" fill="#f2ff0d"/>
<circle cx="525.6" cy="194.3" r="2.7" fill="#4effb1"/>
<circle cx="525.2" cy="182.7" r="2.7" fill="#ffaa00"/>
<circle cx="535.1" cy="164.6" r="2.7" fill="#ff4800"/>
<circle cx="540.7" cy="146.9" r="2.7" fill="#b5ff4a"/>
<circle cx="528.4" cy="174.3" r="2.7" fill="#ff5700"/>
<circle cx="540.0" cy="164.5" r="2.7" fill="#eaff15"/>
<circle cx="538.7" cy="169.6" r="2.7" fill="#c40000"/>
<circle cx="533.3" cy="173.6" r="2.7" fill="#ff9200"/>
<circle cx="541.8" cy="145.8" r="2.7" fill="#ff6a00"/>
<circle cx="546.3" cy="138.1" r="2.7" fill="#ffe500"/>
<circle cx="544.1" cy="152.6" r="2.7" fill="#ffef00"/>
<circle cx="525.2" cy="191.0" r="2.7" fill="#6bff94"/>
<circle cx="528.8" cy="176.8" r="2.7" fill="#ba0000"/>
<circle cx="539.7" cy="167.0" r="2.7" fill="#f6ff09"/>
<circle cx="541.8" cy="152.9" r="2.7" fill="#ffbc00"/>
<circle cx="535.4" cy="163.4" r="2.7" fill="#ff8100"/>
<circle cx="537.3" cy="170.4" r="2.7" fill="#ff5f00"/>
<circle cx="529.1" cy="170.4" r="2.7" fill="#fa0000"/>
</g>
<path d="M268.10 218.10 L268.10 14.00 M265.20 18.70 L268.10 14.00 L271.00 18.70" fill="none" stroke="#3a3a3a" stroke-width="1.2" stroke-linejoin="miter"/>
<path d="M329.00 218.10 L455.70 218.10 M451.00 215.20 L455.70 218.10 L451.00 221.00" fill="none" stroke="#3a3a3a" stroke-width="1.2" stroke-linejoin="miter"/>
<path d="M511.70 221.30 L511.70 5.60 M508.80 10.30 L511.70 5.60 L514.60 10.30" fill="none" stroke="#555" stroke-width="1.2" stroke-linejoin="miter"/>
<path d="M574.70 221.30 L702.00 221.30 M697.30 218.40 L702.00 221.30 L697.30 224.20" fill="none" stroke="#555" stroke-width="1.2" stroke-linejoin="miter"/>
<g font-family='"Liberation Sans", sans-serif'>
<text x="254.40" y="30.00" font-size="14.4" fill="#222" stroke="none">y</text>
<text x="451.20" y="231.50" font-size="10.8" fill="#222" stroke="#222" stroke-width="0.3">X</text>
<text x="492.50" y="25.30" font-size="14.4" fill="#222" stroke="none">y</text>
<text x="686.70" y="238.00" font-size="10.8" fill="#222" stroke="#222" stroke-width="0.3">X</text>
</g>
<g font-family='"Liberation Serif", serif' font-size="14" fill="#333">
<text x="33" y="263.7" textLength="165" lengthAdjust="spacingAndGlyphs">(a) Object Size Distribution</text>
<text x="265.4" y="261" textLength="164.3" lengthAdjust="spacingAndGlyphs">(b) Object Size Distribution</text>
<text x="518.8" y="263.5" textLength="163.5" lengthAdjust="spacingAndGlyphs">(c) Object Size Distribution</text>
</g>
</svg></body></html>
